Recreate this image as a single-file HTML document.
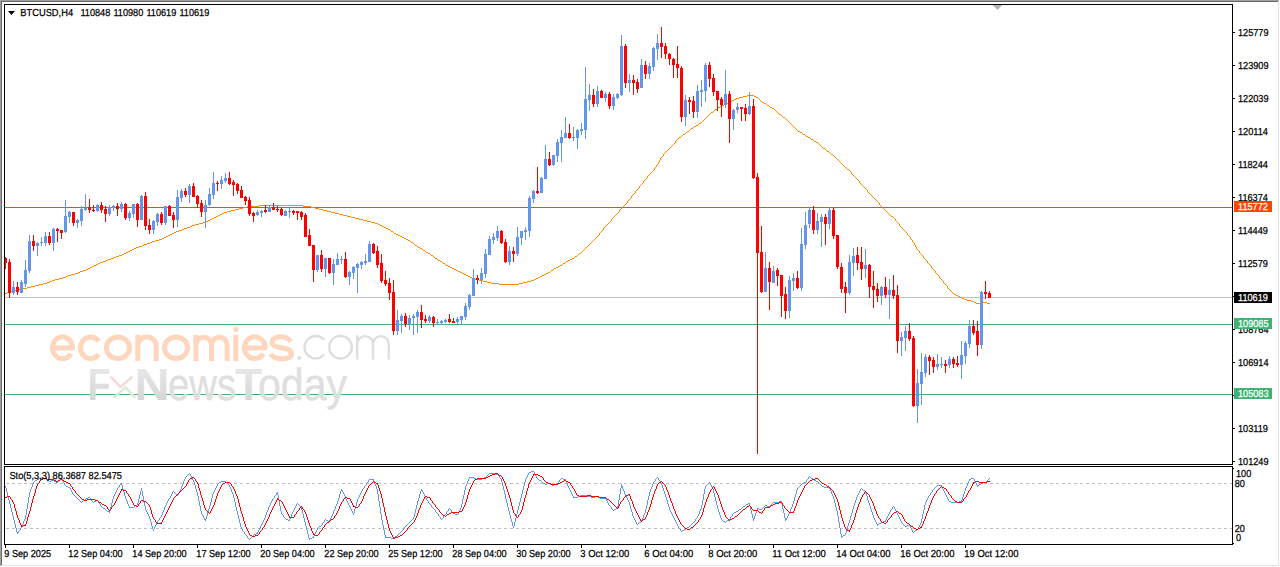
<!DOCTYPE html>
<html><head><meta charset="utf-8"><title>BTCUSD,H4</title>
<style>html,body{margin:0;padding:0;background:#fff;overflow:hidden}body{width:1280px;height:567px;font-family:"Liberation Sans",sans-serif}svg text{font-family:"Liberation Sans",sans-serif}</style></head>
<body>
<svg width="1280" height="567" viewBox="0 0 1280 567" font-family='"Liberation Sans", sans-serif' style="display:block">
<rect x="0" y="0" width="1280" height="567" fill="#fff"/>
<g shape-rendering="crispEdges">
<rect x="5" y="297" width="1227" height="1" fill="#c0c0c0"/>
<rect x="5" y="207" width="1227" height="1" fill="#ff4500"/>
<rect x="5" y="324" width="1227" height="1" fill="#3cb371"/>
<rect x="5" y="394" width="1227" height="1" fill="#3cb371"/>
</g>
<path d="M5.5,293V294M6.5,293V294M7.5,292V293M8.5,292V293M9.5,292V293M10.5,292V293M11.5,291V292M12.5,291V292M13.5,291V292M14.5,291V292M15.5,290V291M16.5,290V291M17.5,290V291M18.5,290V291M19.5,289V290M20.5,289V290M21.5,289V290M22.5,289V290M23.5,288V289M24.5,288V289M25.5,288V289M26.5,288V289M27.5,287V288M28.5,287V288M29.5,287V288M30.5,287V288M31.5,286V287M32.5,286V287M33.5,286V287M34.5,286V287M35.5,285V286M36.5,285V286M37.5,285V286M38.5,285V286M39.5,284V285M40.5,284V285M41.5,284V285M42.5,284V285M43.5,283V284M44.5,283V284M45.5,283V284M46.5,283V284M47.5,282V283M48.5,282V283M49.5,282V283M50.5,281V282M51.5,281V282M52.5,280V281M53.5,280V281M54.5,280V281M55.5,279V280M56.5,279V280M57.5,279V280M58.5,279V280M59.5,278V279M60.5,278V279M61.5,278V279M62.5,278V279M63.5,277V278M64.5,277V278M65.5,277V278M66.5,276V277M67.5,276V277M68.5,275V276M69.5,275V276M70.5,275V276M71.5,274V275M72.5,274V275M73.5,274V275M74.5,274V275M75.5,273V274M76.5,273V274M77.5,273V274M78.5,272V273M79.5,272V273M80.5,271V272M81.5,271V272M82.5,271V272M83.5,270V271M84.5,270V271M85.5,270V271M86.5,269V270M87.5,269V270M88.5,268V269M89.5,268V269M90.5,267V268M91.5,267V268M92.5,266V267M93.5,266V267M94.5,265V266M95.5,265V266M96.5,264V265M97.5,264V265M98.5,263V264M99.5,263V264M100.5,262V263M101.5,262V263M102.5,262V263M103.5,261V262M104.5,261V262M105.5,261V262M106.5,260V261M107.5,260V261M108.5,259V260M109.5,259V260M110.5,259V260M111.5,258V259M112.5,258V259M113.5,258V259M114.5,257V258M115.5,257V258M116.5,256V257M117.5,256V257M118.5,256V257M119.5,255V256M120.5,255V256M121.5,255V256M122.5,254V255M123.5,254V255M124.5,253V254M125.5,253V254M126.5,252V253M127.5,252V253M128.5,251V252M129.5,251V252M130.5,250V251M131.5,250V251M132.5,249V250M133.5,249V250M134.5,248V249M135.5,248V249M136.5,247V248M137.5,247V248M138.5,247V248M139.5,246V247M140.5,246V247M141.5,246V247M142.5,245V246M143.5,245V246M144.5,244V245M145.5,244V245M146.5,244V245M147.5,243V244M148.5,243V244M149.5,243V244M150.5,242V243M151.5,242V243M152.5,241V242M153.5,241V242M154.5,241V242M155.5,240V241M156.5,240V241M157.5,240V241M158.5,240V241M159.5,239V240M160.5,239V240M161.5,239V240M162.5,238V239M163.5,238V239M164.5,237V238M165.5,237V238M166.5,236V237M167.5,236V237M168.5,235V236M169.5,235V236M170.5,234V235M171.5,234V235M172.5,233V234M173.5,233V234M174.5,232V233M175.5,232V233M176.5,231V232M177.5,231V232M178.5,231V232M179.5,230V231M180.5,230V231M181.5,230V231M182.5,229V230M183.5,229V230M184.5,228V229M185.5,228V229M186.5,228V229M187.5,227V228M188.5,227V228M189.5,227V228M190.5,226V227M191.5,226V227M192.5,225V226M193.5,225V226M194.5,225V226M195.5,224V225M196.5,224V225M197.5,224V225M198.5,224V225M199.5,223V224M200.5,223V224M201.5,223V224M202.5,223V224M203.5,222V223M204.5,222V223M205.5,222V223M206.5,221V222M207.5,221V222M208.5,220V221M209.5,220V221M210.5,219V220M211.5,219V220M212.5,218V219M213.5,218V219M214.5,217V218M215.5,217V218M216.5,216V217M217.5,216V217M218.5,215V216M219.5,215V216M220.5,214V215M221.5,214V215M222.5,213V214M223.5,213V214M224.5,212V213M225.5,212V213M226.5,212V213M227.5,211V212M228.5,211V212M229.5,211V212M230.5,211V212M231.5,210V211M232.5,210V211M233.5,210V211M234.5,210V211M235.5,209V210M236.5,209V210M237.5,209V210M238.5,209V210M239.5,208V209M240.5,208V209M241.5,208V209M242.5,208V209M243.5,207V208M244.5,207V208M245.5,207V208M246.5,207V208M247.5,206V207M248.5,206V207M249.5,206V207M250.5,206V207M251.5,206V207M252.5,206V207M253.5,206V207M254.5,206V207M255.5,206V207M256.5,206V207M257.5,206V207M258.5,206V207M259.5,205V206M260.5,205V206M261.5,205V206M262.5,205V206M263.5,205V206M264.5,205V206M265.5,205V206M266.5,205V206M267.5,205V206M268.5,205V206M269.5,205V206M270.5,205V206M271.5,205V206M272.5,205V206M273.5,205V206M274.5,205V206M275.5,205V206M276.5,205V206M277.5,205V206M278.5,205V206M279.5,205V206M280.5,205V206M281.5,205V206M282.5,205V206M283.5,205V206M284.5,205V206M285.5,205V206M286.5,205V206M287.5,205V206M288.5,205V206M289.5,205V206M290.5,205V206M291.5,205V206M292.5,205V206M293.5,205V206M294.5,205V206M295.5,205V206M296.5,205V206M297.5,205V206M298.5,205V206M299.5,205V206M300.5,205V206M301.5,205V206M302.5,205V206M303.5,206V207M304.5,206V207M305.5,206V207M306.5,206V207M307.5,206V207M308.5,206V207M309.5,206V207M310.5,206V207M311.5,207V208M312.5,207V208M313.5,207V208M314.5,207V208M315.5,208V209M316.5,208V209M317.5,208V209M318.5,208V209M319.5,209V210M320.5,209V210M321.5,209V210M322.5,209V210M323.5,210V211M324.5,210V211M325.5,210V211M326.5,210V211M327.5,211V212M328.5,211V212M329.5,211V212M330.5,211V212M331.5,212V213M332.5,212V213M333.5,212V213M334.5,212V213M335.5,213V214M336.5,213V214M337.5,213V214M338.5,213V214M339.5,214V215M340.5,214V215M341.5,214V215M342.5,214V215M343.5,215V216M344.5,215V216M345.5,215V216M346.5,215V216M347.5,216V217M348.5,216V217M349.5,216V217M350.5,216V217M351.5,217V218M352.5,217V218M353.5,217V218M354.5,217V218M355.5,218V219M356.5,218V219M357.5,218V219M358.5,218V219M359.5,219V220M360.5,219V220M361.5,219V220M362.5,219V220M363.5,220V221M364.5,220V221M365.5,220V221M366.5,220V221M367.5,221V222M368.5,221V222M369.5,221V222M370.5,221V222M371.5,222V223M372.5,222V223M373.5,222V223M374.5,222V223M375.5,223V224M376.5,223V224M377.5,223V224M378.5,224V225M379.5,224V225M380.5,225V226M381.5,225V226M382.5,226V227M383.5,226V227M384.5,227V228M385.5,227V228M386.5,228V229M387.5,228V229M388.5,229V230M389.5,229V230M390.5,230V231M391.5,231V232M392.5,231V232M393.5,232V233M394.5,233V234M395.5,233V234M396.5,234V235M397.5,234V235M398.5,235V236M399.5,235V236M400.5,236V237M401.5,236V237M402.5,237V238M403.5,237V238M404.5,238V239M405.5,238V239M406.5,239V240M407.5,239V240M408.5,240V241M409.5,240V241M410.5,241V242M411.5,242V243M412.5,242V243M413.5,243V244M414.5,244V245M415.5,245V246M416.5,245V246M417.5,246V247M418.5,247V248M419.5,247V248M420.5,248V249M421.5,248V249M422.5,249V250M423.5,250V251M424.5,250V251M425.5,251V252M426.5,252V253M427.5,252V253M428.5,253V254M429.5,253V254M430.5,254V255M431.5,255V256M432.5,255V256M433.5,256V257M434.5,257V258M435.5,258V259M436.5,258V259M437.5,259V260M438.5,260V261M439.5,260V261M440.5,261V262M441.5,261V262M442.5,262V263M443.5,263V264M444.5,263V264M445.5,264V265M446.5,265V266M447.5,265V266M448.5,266V267M449.5,266V267M450.5,267V268M451.5,267V268M452.5,268V269M453.5,268V269M454.5,269V270M455.5,269V270M456.5,270V271M457.5,270V271M458.5,271V272M459.5,271V272M460.5,272V273M461.5,272V273M462.5,273V274M463.5,273V274M464.5,274V275M465.5,274V275M466.5,275V276M467.5,275V276M468.5,276V277M469.5,276V277M470.5,277V278M471.5,277V278M472.5,278V279M473.5,278V279M474.5,278V279M475.5,279V280M476.5,279V280M477.5,279V280M478.5,279V280M479.5,280V281M480.5,280V281M481.5,280V281M482.5,280V281M483.5,281V282M484.5,281V282M485.5,281V282M486.5,281V282M487.5,282V283M488.5,282V283M489.5,282V283M490.5,282V283M491.5,283V284M492.5,283V284M493.5,283V284M494.5,283V284M495.5,283V284M496.5,283V284M497.5,283V284M498.5,283V284M499.5,284V285M500.5,284V285M501.5,284V285M502.5,284V285M503.5,284V285M504.5,284V285M505.5,284V285M506.5,284V285M507.5,284V285M508.5,284V285M509.5,284V285M510.5,284V285M511.5,284V285M512.5,284V285M513.5,284V285M514.5,284V285M515.5,284V285M516.5,284V285M517.5,284V285M518.5,284V285M519.5,283V284M520.5,283V284M521.5,283V284M522.5,283V284M523.5,282V283M524.5,282V283M525.5,282V283M526.5,282V283M527.5,281V282M528.5,281V282M529.5,281V282M530.5,281V282M531.5,280V281M532.5,280V281M533.5,280V281M534.5,279V280M535.5,279V280M536.5,278V279M537.5,278V279M538.5,277V278M539.5,277V278M540.5,276V277M541.5,276V277M542.5,275V276M543.5,275V276M544.5,274V275M545.5,274V275M546.5,273V274M547.5,273V274M548.5,272V273M549.5,272V273M550.5,271V272M551.5,270V271M552.5,270V271M553.5,269V270M554.5,268V269M555.5,268V269M556.5,267V268M557.5,267V268M558.5,266V267M559.5,266V267M560.5,265V266M561.5,265V266M562.5,264V265M563.5,263V264M564.5,263V264M565.5,262V263M566.5,261V262M567.5,261V262M568.5,260V261M569.5,260V261M570.5,259V260M571.5,259V260M572.5,258V259M573.5,258V259M574.5,257V258M575.5,256V257M576.5,256V257M577.5,255V256M578.5,254V255M579.5,253V254M580.5,253V254M581.5,252V253M582.5,251V252M583.5,250V251M584.5,249V250M585.5,248V249M586.5,247V248M587.5,246V247M588.5,245V246M589.5,244V245M590.5,243V244M591.5,242V243M592.5,241V242M593.5,240V241M594.5,239V240M595.5,238V239M596.5,237V238M597.5,236V237M598.5,235V236M599.5,233V235M600.5,232V233M601.5,231V232M602.5,230V231M603.5,228V230M604.5,227V228M605.5,226V227M606.5,225V226M607.5,224V225M608.5,223V224M609.5,222V223M610.5,221V222M611.5,219V221M612.5,218V219M613.5,217V218M614.5,216V217M615.5,215V216M616.5,214V215M617.5,213V214M618.5,212V213M619.5,210V212M620.5,209V210M621.5,208V209M622.5,207V208M623.5,206V207M624.5,205V206M625.5,204V205M626.5,203V204M627.5,201V203M628.5,200V201M629.5,199V200M630.5,198V199M631.5,196V198M632.5,195V196M633.5,194V195M634.5,193V194M635.5,191V193M636.5,190V191M637.5,189V190M638.5,188V189M639.5,186V188M640.5,185V186M641.5,184V185M642.5,183V184M643.5,181V183M644.5,180V181M645.5,179V180M646.5,178V179M647.5,176V178M648.5,175V176M649.5,174V175M650.5,173V174M651.5,172V173M652.5,171V172M653.5,170V171M654.5,168V170M655.5,167V168M656.5,165V167M657.5,164V165M658.5,162V164M659.5,160V162M660.5,158V160M661.5,157V158M662.5,156V157M663.5,154V156M664.5,153V154M665.5,152V153M666.5,151V152M667.5,150V151M668.5,149V150M669.5,148V149M670.5,147V148M671.5,146V147M672.5,145V146M673.5,144V145M674.5,143V144M675.5,141V143M676.5,140V141M677.5,139V140M678.5,138V139M679.5,137V138M680.5,137V138M681.5,136V137M682.5,135V136M683.5,134V135M684.5,134V135M685.5,133V134M686.5,132V133M687.5,131V132M688.5,131V132M689.5,130V131M690.5,129V130M691.5,128V129M692.5,128V129M693.5,127V128M694.5,126V127M695.5,126V127M696.5,125V126M697.5,125V126M698.5,124V125M699.5,123V124M700.5,123V124M701.5,122V123M702.5,121V122M703.5,120V121M704.5,119V120M705.5,118V119M706.5,117V118M707.5,116V117M708.5,115V116M709.5,114V115M710.5,113V114M711.5,112V113M712.5,112V113M713.5,111V112M714.5,110V111M715.5,109V110M716.5,109V110M717.5,108V109M718.5,107V108M719.5,107V108M720.5,106V107M721.5,106V107M722.5,105V106M723.5,105V106M724.5,104V105M725.5,104V105M726.5,103V104M727.5,103V104M728.5,102V103M729.5,102V103M730.5,101V102M731.5,101V102M732.5,100V101M733.5,100V101M734.5,99V100M735.5,99V100M736.5,98V99M737.5,98V99M738.5,98V99M739.5,97V98M740.5,97V98M741.5,97V98M742.5,97V98M743.5,96V97M744.5,96V97M745.5,96V97M746.5,96V97M747.5,95V96M748.5,95V96M749.5,95V96M750.5,95V96M751.5,95V96M752.5,95V96M753.5,95V96M754.5,96V97M755.5,96V97M756.5,97V98M757.5,97V98M758.5,98V99M759.5,99V100M760.5,100V101M761.5,101V102M762.5,102V103M763.5,102V103M764.5,103V104M765.5,103V104M766.5,104V105M767.5,105V106M768.5,105V106M769.5,106V107M770.5,107V108M771.5,107V108M772.5,108V109M773.5,108V109M774.5,109V110M775.5,110V111M776.5,111V112M777.5,112V113M778.5,113V114M779.5,114V115M780.5,114V115M781.5,115V116M782.5,116V117M783.5,117V118M784.5,117V118M785.5,118V119M786.5,119V120M787.5,120V121M788.5,121V122M789.5,122V123M790.5,123V124M791.5,124V125M792.5,125V126M793.5,126V127M794.5,127V128M795.5,128V129M796.5,129V130M797.5,130V131M798.5,131V132M799.5,131V132M800.5,132V133M801.5,132V133M802.5,133V134M803.5,134V135M804.5,134V135M805.5,135V136M806.5,136V137M807.5,136V137M808.5,137V138M809.5,137V138M810.5,138V139M811.5,139V140M812.5,139V140M813.5,140V141M814.5,141V142M815.5,141V142M816.5,142V143M817.5,142V143M818.5,143V144M819.5,144V145M820.5,145V146M821.5,146V147M822.5,147V148M823.5,148V149M824.5,148V149M825.5,149V150M826.5,150V151M827.5,151V152M828.5,151V152M829.5,152V153M830.5,153V154M831.5,154V155M832.5,154V155M833.5,155V156M834.5,156V157M835.5,157V158M836.5,158V159M837.5,159V160M838.5,160V161M839.5,161V162M840.5,162V163M841.5,163V164M842.5,164V165M843.5,165V166M844.5,166V167M845.5,167V168M846.5,168V169M847.5,169V170M848.5,169V170M849.5,170V171M850.5,171V172M851.5,172V174M852.5,174V175M853.5,175V176M854.5,176V177M855.5,177V178M856.5,178V179M857.5,179V180M858.5,180V181M859.5,181V183M860.5,183V184M861.5,184V185M862.5,185V186M863.5,186V187M864.5,187V188M865.5,188V189M866.5,189V190M867.5,190V192M868.5,192V193M869.5,193V194M870.5,194V195M871.5,195V196M872.5,196V197M873.5,197V198M874.5,198V199M875.5,199V200M876.5,200V201M877.5,201V202M878.5,202V203M879.5,203V205M880.5,205V206M881.5,206V207M882.5,207V208M883.5,208V209M884.5,209V210M885.5,210V211M886.5,211V212M887.5,212V213M888.5,213V214M889.5,214V215M890.5,215V216M891.5,216V217M892.5,216V217M893.5,217V218M894.5,218V219M895.5,219V221M896.5,221V222M897.5,222V223M898.5,223V224M899.5,224V226M900.5,226V227M901.5,227V228M902.5,228V229M903.5,229V230M904.5,230V231M905.5,231V232M906.5,232V233M907.5,233V235M908.5,235V236M909.5,236V237M910.5,237V239M911.5,239V240M912.5,240V242M913.5,242V243M914.5,243V245M915.5,245V247M916.5,247V249M917.5,249V250M918.5,250V251M919.5,251V253M920.5,253V254M921.5,254V255M922.5,255V256M923.5,256V258M924.5,258V259M925.5,259V260M926.5,260V261M927.5,261V263M928.5,263V264M929.5,264V265M930.5,265V266M931.5,266V268M932.5,268V269M933.5,269V270M934.5,270V271M935.5,271V273M936.5,273V274M937.5,274V275M938.5,275V276M939.5,276V278M940.5,278V279M941.5,279V280M942.5,280V281M943.5,281V283M944.5,283V284M945.5,284V285M946.5,285V286M947.5,286V288M948.5,288V289M949.5,289V290M950.5,290V291M951.5,291V292M952.5,292V293M953.5,293V294M954.5,294V295M955.5,294V295M956.5,295V296M957.5,295V296M958.5,296V297M959.5,296V297M960.5,297V298M961.5,297V298M962.5,298V299M963.5,298V299M964.5,299V300M965.5,299V300M966.5,299V300M967.5,300V301M968.5,300V301M969.5,300V301M970.5,300V301M971.5,301V302M972.5,301V302M973.5,301V302M974.5,302V303M975.5,302V303M976.5,303V304M977.5,303V304M978.5,303V304M979.5,303V304M980.5,303V304M981.5,303V304M982.5,303V304M983.5,302V303M984.5,302V303M985.5,302V303M986.5,302V303M987.5,303V304M988.5,303V304M989.5,303V304" fill="none" stroke="#ff8c00" stroke-width="1" shape-rendering="crispEdges"/>
<g shape-rendering="crispEdges">
<rect x="5" y="257" width="1" height="12" fill="#ff0000"/>
<rect x="4" y="258" width="3" height="5" fill="#ff0000"/>
<rect x="9" y="259" width="1" height="39" fill="#ff0000"/>
<rect x="8" y="262" width="3" height="31" fill="#ff0000"/>
<rect x="13" y="281" width="1" height="14" fill="#6495ed"/>
<rect x="12" y="287" width="3" height="6" fill="#6495ed"/>
<rect x="17" y="282" width="1" height="13" fill="#ff0000"/>
<rect x="16" y="287" width="3" height="5" fill="#ff0000"/>
<rect x="21" y="280" width="1" height="13" fill="#6495ed"/>
<rect x="20" y="282" width="3" height="11" fill="#6495ed"/>
<rect x="25" y="260" width="1" height="27" fill="#6495ed"/>
<rect x="24" y="270" width="3" height="14" fill="#6495ed"/>
<rect x="29" y="235" width="1" height="38" fill="#6495ed"/>
<rect x="28" y="241" width="3" height="30" fill="#6495ed"/>
<rect x="33" y="235" width="1" height="16" fill="#ff0000"/>
<rect x="32" y="241" width="3" height="5" fill="#ff0000"/>
<rect x="37" y="242" width="1" height="14" fill="#6495ed"/>
<rect x="36" y="243" width="3" height="3" fill="#6495ed"/>
<rect x="41" y="237" width="1" height="9" fill="#6495ed"/>
<rect x="40" y="242" width="3" height="1" fill="#6495ed"/>
<rect x="45" y="232" width="1" height="14" fill="#6495ed"/>
<rect x="44" y="236" width="3" height="7" fill="#6495ed"/>
<rect x="49" y="232" width="1" height="13" fill="#ff0000"/>
<rect x="48" y="236" width="3" height="7" fill="#ff0000"/>
<rect x="53" y="228" width="1" height="23" fill="#6495ed"/>
<rect x="52" y="229" width="3" height="14" fill="#6495ed"/>
<rect x="57" y="228" width="1" height="14" fill="#ff0000"/>
<rect x="56" y="229" width="3" height="2" fill="#ff0000"/>
<rect x="61" y="230" width="1" height="9" fill="#ff0000"/>
<rect x="60" y="230" width="3" height="3" fill="#ff0000"/>
<rect x="65" y="200" width="1" height="33" fill="#6495ed"/>
<rect x="64" y="216" width="3" height="16" fill="#6495ed"/>
<rect x="69" y="211" width="1" height="12" fill="#6495ed"/>
<rect x="68" y="212" width="3" height="5" fill="#6495ed"/>
<rect x="73" y="212" width="1" height="14" fill="#ff0000"/>
<rect x="72" y="212" width="3" height="11" fill="#ff0000"/>
<rect x="77" y="219" width="1" height="9" fill="#6495ed"/>
<rect x="76" y="220" width="3" height="3" fill="#6495ed"/>
<rect x="81" y="206" width="1" height="20" fill="#6495ed"/>
<rect x="80" y="209" width="3" height="12" fill="#6495ed"/>
<rect x="85" y="194" width="1" height="17" fill="#6495ed"/>
<rect x="84" y="208" width="3" height="2" fill="#6495ed"/>
<rect x="89" y="199" width="1" height="14" fill="#ff0000"/>
<rect x="88" y="207" width="3" height="3" fill="#ff0000"/>
<rect x="93" y="205" width="1" height="7" fill="#ff0000"/>
<rect x="92" y="210" width="3" height="1" fill="#ff0000"/>
<rect x="97" y="204" width="1" height="8" fill="#6495ed"/>
<rect x="96" y="205" width="3" height="6" fill="#6495ed"/>
<rect x="101" y="202" width="1" height="11" fill="#ff0000"/>
<rect x="100" y="205" width="3" height="5" fill="#ff0000"/>
<rect x="105" y="206" width="1" height="16" fill="#ff0000"/>
<rect x="104" y="209" width="3" height="5" fill="#ff0000"/>
<rect x="109" y="205" width="1" height="11" fill="#6495ed"/>
<rect x="108" y="207" width="3" height="7" fill="#6495ed"/>
<rect x="113" y="205" width="1" height="6" fill="#6495ed"/>
<rect x="112" y="206" width="3" height="2" fill="#6495ed"/>
<rect x="117" y="203" width="1" height="13" fill="#ff0000"/>
<rect x="116" y="206" width="3" height="3" fill="#ff0000"/>
<rect x="121" y="202" width="1" height="10" fill="#6495ed"/>
<rect x="120" y="204" width="3" height="5" fill="#6495ed"/>
<rect x="125" y="203" width="1" height="17" fill="#ff0000"/>
<rect x="124" y="204" width="3" height="14" fill="#ff0000"/>
<rect x="129" y="211" width="1" height="10" fill="#6495ed"/>
<rect x="128" y="213" width="3" height="5" fill="#6495ed"/>
<rect x="133" y="204" width="1" height="14" fill="#6495ed"/>
<rect x="132" y="204" width="3" height="10" fill="#6495ed"/>
<rect x="137" y="203" width="1" height="24" fill="#ff0000"/>
<rect x="136" y="204" width="3" height="16" fill="#ff0000"/>
<rect x="141" y="195" width="1" height="25" fill="#6495ed"/>
<rect x="140" y="196" width="3" height="24" fill="#6495ed"/>
<rect x="145" y="192" width="1" height="38" fill="#ff0000"/>
<rect x="144" y="196" width="3" height="30" fill="#ff0000"/>
<rect x="149" y="219" width="1" height="15" fill="#ff0000"/>
<rect x="148" y="225" width="3" height="5" fill="#ff0000"/>
<rect x="153" y="220" width="1" height="14" fill="#6495ed"/>
<rect x="152" y="221" width="3" height="9" fill="#6495ed"/>
<rect x="157" y="213" width="1" height="13" fill="#6495ed"/>
<rect x="156" y="214" width="3" height="8" fill="#6495ed"/>
<rect x="161" y="212" width="1" height="13" fill="#ff0000"/>
<rect x="160" y="214" width="3" height="9" fill="#ff0000"/>
<rect x="165" y="206" width="1" height="19" fill="#6495ed"/>
<rect x="164" y="206" width="3" height="17" fill="#6495ed"/>
<rect x="169" y="205" width="1" height="11" fill="#ff0000"/>
<rect x="168" y="206" width="3" height="10" fill="#ff0000"/>
<rect x="173" y="212" width="1" height="16" fill="#ff0000"/>
<rect x="172" y="215" width="3" height="5" fill="#ff0000"/>
<rect x="177" y="190" width="1" height="37" fill="#6495ed"/>
<rect x="176" y="197" width="3" height="23" fill="#6495ed"/>
<rect x="181" y="189" width="1" height="13" fill="#6495ed"/>
<rect x="180" y="191" width="3" height="7" fill="#6495ed"/>
<rect x="185" y="188" width="1" height="9" fill="#ff0000"/>
<rect x="184" y="191" width="3" height="4" fill="#ff0000"/>
<rect x="189" y="184" width="1" height="19" fill="#6495ed"/>
<rect x="188" y="186" width="3" height="9" fill="#6495ed"/>
<rect x="193" y="183" width="1" height="14" fill="#ff0000"/>
<rect x="192" y="186" width="3" height="11" fill="#ff0000"/>
<rect x="197" y="195" width="1" height="13" fill="#ff0000"/>
<rect x="196" y="196" width="3" height="8" fill="#ff0000"/>
<rect x="201" y="200" width="1" height="17" fill="#ff0000"/>
<rect x="200" y="203" width="3" height="9" fill="#ff0000"/>
<rect x="205" y="200" width="1" height="28" fill="#6495ed"/>
<rect x="204" y="205" width="3" height="7" fill="#6495ed"/>
<rect x="209" y="188" width="1" height="18" fill="#6495ed"/>
<rect x="208" y="194" width="3" height="11" fill="#6495ed"/>
<rect x="213" y="172" width="1" height="27" fill="#6495ed"/>
<rect x="212" y="183" width="3" height="12" fill="#6495ed"/>
<rect x="217" y="181" width="1" height="10" fill="#ff0000"/>
<rect x="216" y="183" width="3" height="1" fill="#ff0000"/>
<rect x="221" y="176" width="1" height="13" fill="#6495ed"/>
<rect x="220" y="180" width="3" height="4" fill="#6495ed"/>
<rect x="225" y="173" width="1" height="10" fill="#6495ed"/>
<rect x="224" y="178" width="3" height="3" fill="#6495ed"/>
<rect x="229" y="172" width="1" height="13" fill="#ff0000"/>
<rect x="228" y="178" width="3" height="6" fill="#ff0000"/>
<rect x="233" y="180" width="1" height="16" fill="#ff0000"/>
<rect x="232" y="182" width="3" height="3" fill="#ff0000"/>
<rect x="237" y="183" width="1" height="11" fill="#ff0000"/>
<rect x="236" y="184" width="3" height="7" fill="#ff0000"/>
<rect x="241" y="186" width="1" height="12" fill="#ff0000"/>
<rect x="240" y="190" width="3" height="8" fill="#ff0000"/>
<rect x="245" y="196" width="1" height="9" fill="#ff0000"/>
<rect x="244" y="197" width="3" height="4" fill="#ff0000"/>
<rect x="249" y="197" width="1" height="19" fill="#ff0000"/>
<rect x="248" y="200" width="3" height="14" fill="#ff0000"/>
<rect x="253" y="212" width="1" height="10" fill="#ff0000"/>
<rect x="252" y="213" width="3" height="3" fill="#ff0000"/>
<rect x="257" y="210" width="1" height="6" fill="#6495ed"/>
<rect x="256" y="212" width="3" height="3" fill="#6495ed"/>
<rect x="261" y="210" width="1" height="7" fill="#6495ed"/>
<rect x="260" y="211" width="3" height="2" fill="#6495ed"/>
<rect x="265" y="205" width="1" height="8" fill="#ff0000"/>
<rect x="264" y="210" width="3" height="2" fill="#ff0000"/>
<rect x="269" y="206" width="1" height="6" fill="#6495ed"/>
<rect x="268" y="207" width="3" height="5" fill="#6495ed"/>
<rect x="273" y="203" width="1" height="7" fill="#ff0000"/>
<rect x="272" y="207" width="3" height="3" fill="#ff0000"/>
<rect x="277" y="206" width="1" height="6" fill="#ff0000"/>
<rect x="276" y="209" width="3" height="1" fill="#ff0000"/>
<rect x="281" y="208" width="1" height="8" fill="#ff0000"/>
<rect x="280" y="209" width="3" height="6" fill="#ff0000"/>
<rect x="285" y="210" width="1" height="6" fill="#6495ed"/>
<rect x="284" y="211" width="3" height="5" fill="#6495ed"/>
<rect x="289" y="208" width="1" height="10" fill="#6495ed"/>
<rect x="288" y="211" width="3" height="1" fill="#6495ed"/>
<rect x="293" y="210" width="1" height="5" fill="#ff0000"/>
<rect x="292" y="211" width="3" height="2" fill="#ff0000"/>
<rect x="297" y="211" width="1" height="9" fill="#ff0000"/>
<rect x="296" y="211" width="3" height="2" fill="#ff0000"/>
<rect x="301" y="211" width="1" height="9" fill="#ff0000"/>
<rect x="300" y="212" width="3" height="5" fill="#ff0000"/>
<rect x="305" y="213" width="1" height="24" fill="#ff0000"/>
<rect x="304" y="215" width="3" height="22" fill="#ff0000"/>
<rect x="309" y="229" width="1" height="17" fill="#ff0000"/>
<rect x="308" y="235" width="3" height="11" fill="#ff0000"/>
<rect x="313" y="245" width="1" height="37" fill="#ff0000"/>
<rect x="312" y="245" width="3" height="25" fill="#ff0000"/>
<rect x="317" y="255" width="1" height="17" fill="#6495ed"/>
<rect x="316" y="255" width="3" height="15" fill="#6495ed"/>
<rect x="321" y="250" width="1" height="22" fill="#ff0000"/>
<rect x="320" y="255" width="3" height="14" fill="#ff0000"/>
<rect x="325" y="258" width="1" height="19" fill="#6495ed"/>
<rect x="324" y="258" width="3" height="11" fill="#6495ed"/>
<rect x="329" y="258" width="1" height="16" fill="#ff0000"/>
<rect x="328" y="258" width="3" height="15" fill="#ff0000"/>
<rect x="333" y="259" width="1" height="26" fill="#6495ed"/>
<rect x="332" y="264" width="3" height="9" fill="#6495ed"/>
<rect x="337" y="253" width="1" height="12" fill="#6495ed"/>
<rect x="336" y="259" width="3" height="6" fill="#6495ed"/>
<rect x="341" y="256" width="1" height="8" fill="#6495ed"/>
<rect x="340" y="259" width="3" height="1" fill="#6495ed"/>
<rect x="345" y="252" width="1" height="26" fill="#ff0000"/>
<rect x="344" y="259" width="3" height="18" fill="#ff0000"/>
<rect x="349" y="271" width="1" height="14" fill="#6495ed"/>
<rect x="348" y="272" width="3" height="5" fill="#6495ed"/>
<rect x="353" y="266" width="1" height="13" fill="#6495ed"/>
<rect x="352" y="267" width="3" height="6" fill="#6495ed"/>
<rect x="357" y="263" width="1" height="30" fill="#6495ed"/>
<rect x="356" y="264" width="3" height="4" fill="#6495ed"/>
<rect x="361" y="261" width="1" height="8" fill="#6495ed"/>
<rect x="360" y="262" width="3" height="3" fill="#6495ed"/>
<rect x="365" y="254" width="1" height="11" fill="#6495ed"/>
<rect x="364" y="261" width="3" height="2" fill="#6495ed"/>
<rect x="369" y="241" width="1" height="21" fill="#6495ed"/>
<rect x="368" y="244" width="3" height="18" fill="#6495ed"/>
<rect x="373" y="243" width="1" height="11" fill="#ff0000"/>
<rect x="372" y="244" width="3" height="9" fill="#ff0000"/>
<rect x="377" y="246" width="1" height="22" fill="#ff0000"/>
<rect x="376" y="251" width="3" height="14" fill="#ff0000"/>
<rect x="381" y="254" width="1" height="29" fill="#ff0000"/>
<rect x="380" y="263" width="3" height="18" fill="#ff0000"/>
<rect x="385" y="271" width="1" height="15" fill="#ff0000"/>
<rect x="384" y="280" width="3" height="4" fill="#ff0000"/>
<rect x="389" y="278" width="1" height="22" fill="#ff0000"/>
<rect x="388" y="283" width="3" height="10" fill="#ff0000"/>
<rect x="393" y="280" width="1" height="55" fill="#ff0000"/>
<rect x="392" y="292" width="3" height="39" fill="#ff0000"/>
<rect x="397" y="310" width="1" height="25" fill="#6495ed"/>
<rect x="396" y="320" width="3" height="11" fill="#6495ed"/>
<rect x="401" y="314" width="1" height="19" fill="#6495ed"/>
<rect x="400" y="316" width="3" height="5" fill="#6495ed"/>
<rect x="405" y="313" width="1" height="14" fill="#ff0000"/>
<rect x="404" y="316" width="3" height="8" fill="#ff0000"/>
<rect x="409" y="315" width="1" height="15" fill="#6495ed"/>
<rect x="408" y="318" width="3" height="6" fill="#6495ed"/>
<rect x="413" y="314" width="1" height="21" fill="#6495ed"/>
<rect x="412" y="316" width="3" height="2" fill="#6495ed"/>
<rect x="417" y="310" width="1" height="23" fill="#6495ed"/>
<rect x="416" y="312" width="3" height="5" fill="#6495ed"/>
<rect x="421" y="305" width="1" height="23" fill="#ff0000"/>
<rect x="420" y="312" width="3" height="8" fill="#ff0000"/>
<rect x="425" y="315" width="1" height="8" fill="#ff0000"/>
<rect x="424" y="319" width="3" height="2" fill="#ff0000"/>
<rect x="429" y="315" width="1" height="8" fill="#6495ed"/>
<rect x="428" y="317" width="3" height="4" fill="#6495ed"/>
<rect x="433" y="316" width="1" height="11" fill="#ff0000"/>
<rect x="432" y="317" width="3" height="6" fill="#ff0000"/>
<rect x="437" y="319" width="1" height="6" fill="#6495ed"/>
<rect x="436" y="322" width="3" height="1" fill="#6495ed"/>
<rect x="441" y="320" width="1" height="5" fill="#6495ed"/>
<rect x="440" y="321" width="3" height="2" fill="#6495ed"/>
<rect x="445" y="319" width="1" height="4" fill="#6495ed"/>
<rect x="444" y="320" width="3" height="2" fill="#6495ed"/>
<rect x="449" y="314" width="1" height="9" fill="#ff0000"/>
<rect x="448" y="319" width="3" height="3" fill="#ff0000"/>
<rect x="453" y="318" width="1" height="5" fill="#ff0000"/>
<rect x="452" y="321" width="3" height="2" fill="#ff0000"/>
<rect x="457" y="317" width="1" height="7" fill="#6495ed"/>
<rect x="456" y="319" width="3" height="3" fill="#6495ed"/>
<rect x="461" y="316" width="1" height="9" fill="#6495ed"/>
<rect x="460" y="316" width="3" height="4" fill="#6495ed"/>
<rect x="465" y="303" width="1" height="17" fill="#6495ed"/>
<rect x="464" y="306" width="3" height="11" fill="#6495ed"/>
<rect x="469" y="294" width="1" height="16" fill="#6495ed"/>
<rect x="468" y="295" width="3" height="12" fill="#6495ed"/>
<rect x="473" y="269" width="1" height="27" fill="#6495ed"/>
<rect x="472" y="278" width="3" height="18" fill="#6495ed"/>
<rect x="477" y="275" width="1" height="9" fill="#ff0000"/>
<rect x="476" y="278" width="3" height="2" fill="#ff0000"/>
<rect x="481" y="268" width="1" height="16" fill="#6495ed"/>
<rect x="480" y="273" width="3" height="7" fill="#6495ed"/>
<rect x="485" y="249" width="1" height="29" fill="#6495ed"/>
<rect x="484" y="254" width="3" height="20" fill="#6495ed"/>
<rect x="489" y="236" width="1" height="19" fill="#6495ed"/>
<rect x="488" y="239" width="3" height="16" fill="#6495ed"/>
<rect x="493" y="233" width="1" height="11" fill="#6495ed"/>
<rect x="492" y="237" width="3" height="3" fill="#6495ed"/>
<rect x="497" y="226" width="1" height="15" fill="#6495ed"/>
<rect x="496" y="231" width="3" height="7" fill="#6495ed"/>
<rect x="501" y="230" width="1" height="14" fill="#ff0000"/>
<rect x="500" y="231" width="3" height="12" fill="#ff0000"/>
<rect x="505" y="239" width="1" height="24" fill="#ff0000"/>
<rect x="504" y="242" width="3" height="20" fill="#ff0000"/>
<rect x="509" y="246" width="1" height="19" fill="#6495ed"/>
<rect x="508" y="251" width="3" height="11" fill="#6495ed"/>
<rect x="513" y="247" width="1" height="15" fill="#ff0000"/>
<rect x="512" y="251" width="3" height="3" fill="#ff0000"/>
<rect x="517" y="227" width="1" height="29" fill="#6495ed"/>
<rect x="516" y="237" width="3" height="17" fill="#6495ed"/>
<rect x="521" y="231" width="1" height="14" fill="#6495ed"/>
<rect x="520" y="231" width="3" height="7" fill="#6495ed"/>
<rect x="525" y="227" width="1" height="13" fill="#6495ed"/>
<rect x="524" y="230" width="3" height="2" fill="#6495ed"/>
<rect x="529" y="196" width="1" height="41" fill="#6495ed"/>
<rect x="528" y="198" width="3" height="33" fill="#6495ed"/>
<rect x="533" y="190" width="1" height="13" fill="#6495ed"/>
<rect x="532" y="191" width="3" height="8" fill="#6495ed"/>
<rect x="537" y="167" width="1" height="27" fill="#ff0000"/>
<rect x="536" y="191" width="3" height="2" fill="#ff0000"/>
<rect x="541" y="177" width="1" height="16" fill="#6495ed"/>
<rect x="540" y="178" width="3" height="15" fill="#6495ed"/>
<rect x="545" y="145" width="1" height="34" fill="#6495ed"/>
<rect x="544" y="159" width="3" height="20" fill="#6495ed"/>
<rect x="549" y="152" width="1" height="14" fill="#ff0000"/>
<rect x="548" y="159" width="3" height="6" fill="#ff0000"/>
<rect x="553" y="155" width="1" height="11" fill="#6495ed"/>
<rect x="552" y="155" width="3" height="10" fill="#6495ed"/>
<rect x="557" y="139" width="1" height="23" fill="#6495ed"/>
<rect x="556" y="142" width="3" height="14" fill="#6495ed"/>
<rect x="561" y="130" width="1" height="32" fill="#6495ed"/>
<rect x="560" y="137" width="3" height="6" fill="#6495ed"/>
<rect x="565" y="117" width="1" height="21" fill="#6495ed"/>
<rect x="564" y="133" width="3" height="5" fill="#6495ed"/>
<rect x="569" y="124" width="1" height="15" fill="#ff0000"/>
<rect x="568" y="133" width="3" height="5" fill="#ff0000"/>
<rect x="573" y="127" width="1" height="14" fill="#6495ed"/>
<rect x="572" y="137" width="3" height="1" fill="#6495ed"/>
<rect x="577" y="129" width="1" height="20" fill="#6495ed"/>
<rect x="576" y="130" width="3" height="8" fill="#6495ed"/>
<rect x="581" y="123" width="1" height="12" fill="#6495ed"/>
<rect x="580" y="129" width="3" height="2" fill="#6495ed"/>
<rect x="585" y="67" width="1" height="72" fill="#6495ed"/>
<rect x="584" y="99" width="3" height="31" fill="#6495ed"/>
<rect x="589" y="84" width="1" height="27" fill="#6495ed"/>
<rect x="588" y="95" width="3" height="5" fill="#6495ed"/>
<rect x="593" y="89" width="1" height="18" fill="#ff0000"/>
<rect x="592" y="95" width="3" height="9" fill="#ff0000"/>
<rect x="597" y="86" width="1" height="21" fill="#6495ed"/>
<rect x="596" y="91" width="3" height="13" fill="#6495ed"/>
<rect x="601" y="90" width="1" height="8" fill="#ff0000"/>
<rect x="600" y="91" width="3" height="7" fill="#ff0000"/>
<rect x="605" y="92" width="1" height="10" fill="#6495ed"/>
<rect x="604" y="94" width="3" height="4" fill="#6495ed"/>
<rect x="609" y="92" width="1" height="17" fill="#ff0000"/>
<rect x="608" y="94" width="3" height="12" fill="#ff0000"/>
<rect x="613" y="94" width="1" height="16" fill="#6495ed"/>
<rect x="612" y="97" width="3" height="9" fill="#6495ed"/>
<rect x="617" y="93" width="1" height="6" fill="#6495ed"/>
<rect x="616" y="94" width="3" height="4" fill="#6495ed"/>
<rect x="621" y="35" width="1" height="61" fill="#6495ed"/>
<rect x="620" y="46" width="3" height="49" fill="#6495ed"/>
<rect x="625" y="44" width="1" height="44" fill="#ff0000"/>
<rect x="624" y="46" width="3" height="37" fill="#ff0000"/>
<rect x="629" y="74" width="1" height="18" fill="#6495ed"/>
<rect x="628" y="80" width="3" height="3" fill="#6495ed"/>
<rect x="633" y="75" width="1" height="20" fill="#ff0000"/>
<rect x="632" y="80" width="3" height="3" fill="#ff0000"/>
<rect x="637" y="79" width="1" height="14" fill="#ff0000"/>
<rect x="636" y="82" width="3" height="7" fill="#ff0000"/>
<rect x="641" y="59" width="1" height="29" fill="#6495ed"/>
<rect x="640" y="65" width="3" height="23" fill="#6495ed"/>
<rect x="645" y="61" width="1" height="18" fill="#ff0000"/>
<rect x="644" y="65" width="3" height="9" fill="#ff0000"/>
<rect x="649" y="63" width="1" height="16" fill="#6495ed"/>
<rect x="648" y="66" width="3" height="8" fill="#6495ed"/>
<rect x="653" y="47" width="1" height="24" fill="#6495ed"/>
<rect x="652" y="48" width="3" height="19" fill="#6495ed"/>
<rect x="657" y="34" width="1" height="26" fill="#6495ed"/>
<rect x="656" y="43" width="3" height="6" fill="#6495ed"/>
<rect x="661" y="27" width="1" height="31" fill="#ff0000"/>
<rect x="660" y="43" width="3" height="4" fill="#ff0000"/>
<rect x="665" y="43" width="1" height="16" fill="#ff0000"/>
<rect x="664" y="46" width="3" height="8" fill="#ff0000"/>
<rect x="669" y="53" width="1" height="12" fill="#ff0000"/>
<rect x="668" y="54" width="3" height="5" fill="#ff0000"/>
<rect x="673" y="58" width="1" height="20" fill="#ff0000"/>
<rect x="672" y="59" width="3" height="6" fill="#ff0000"/>
<rect x="677" y="46" width="1" height="32" fill="#ff0000"/>
<rect x="676" y="64" width="3" height="4" fill="#ff0000"/>
<rect x="681" y="66" width="1" height="56" fill="#ff0000"/>
<rect x="680" y="68" width="3" height="49" fill="#ff0000"/>
<rect x="685" y="95" width="1" height="31" fill="#6495ed"/>
<rect x="684" y="100" width="3" height="17" fill="#6495ed"/>
<rect x="689" y="97" width="1" height="17" fill="#ff0000"/>
<rect x="688" y="100" width="3" height="2" fill="#ff0000"/>
<rect x="693" y="96" width="1" height="22" fill="#ff0000"/>
<rect x="692" y="101" width="3" height="11" fill="#ff0000"/>
<rect x="697" y="85" width="1" height="33" fill="#6495ed"/>
<rect x="696" y="91" width="3" height="21" fill="#6495ed"/>
<rect x="701" y="80" width="1" height="27" fill="#6495ed"/>
<rect x="700" y="90" width="3" height="2" fill="#6495ed"/>
<rect x="705" y="63" width="1" height="39" fill="#6495ed"/>
<rect x="704" y="65" width="3" height="26" fill="#6495ed"/>
<rect x="709" y="62" width="1" height="25" fill="#ff0000"/>
<rect x="708" y="65" width="3" height="14" fill="#ff0000"/>
<rect x="713" y="74" width="1" height="22" fill="#ff0000"/>
<rect x="712" y="78" width="3" height="14" fill="#ff0000"/>
<rect x="717" y="91" width="1" height="20" fill="#ff0000"/>
<rect x="716" y="91" width="3" height="9" fill="#ff0000"/>
<rect x="721" y="97" width="1" height="20" fill="#ff0000"/>
<rect x="720" y="99" width="3" height="6" fill="#ff0000"/>
<rect x="725" y="70" width="1" height="38" fill="#6495ed"/>
<rect x="724" y="94" width="3" height="11" fill="#6495ed"/>
<rect x="729" y="91" width="1" height="52" fill="#ff0000"/>
<rect x="728" y="94" width="3" height="25" fill="#ff0000"/>
<rect x="733" y="109" width="1" height="21" fill="#6495ed"/>
<rect x="732" y="110" width="3" height="9" fill="#6495ed"/>
<rect x="737" y="103" width="1" height="10" fill="#6495ed"/>
<rect x="736" y="107" width="3" height="3" fill="#6495ed"/>
<rect x="741" y="107" width="1" height="14" fill="#ff0000"/>
<rect x="740" y="107" width="3" height="2" fill="#ff0000"/>
<rect x="745" y="104" width="1" height="17" fill="#ff0000"/>
<rect x="744" y="108" width="3" height="6" fill="#ff0000"/>
<rect x="749" y="92" width="1" height="23" fill="#6495ed"/>
<rect x="748" y="106" width="3" height="8" fill="#6495ed"/>
<rect x="753" y="99" width="1" height="80" fill="#ff0000"/>
<rect x="752" y="106" width="3" height="72" fill="#ff0000"/>
<rect x="757" y="173" width="1" height="281" fill="#ff0000"/>
<rect x="756" y="177" width="3" height="76" fill="#ff0000"/>
<rect x="761" y="226" width="1" height="67" fill="#ff0000"/>
<rect x="760" y="252" width="3" height="40" fill="#ff0000"/>
<rect x="765" y="252" width="1" height="40" fill="#6495ed"/>
<rect x="764" y="268" width="3" height="24" fill="#6495ed"/>
<rect x="769" y="262" width="1" height="48" fill="#ff0000"/>
<rect x="768" y="268" width="3" height="14" fill="#ff0000"/>
<rect x="773" y="266" width="1" height="17" fill="#6495ed"/>
<rect x="772" y="271" width="3" height="12" fill="#6495ed"/>
<rect x="777" y="268" width="1" height="18" fill="#ff0000"/>
<rect x="776" y="270" width="3" height="6" fill="#ff0000"/>
<rect x="781" y="275" width="1" height="42" fill="#ff0000"/>
<rect x="780" y="275" width="3" height="21" fill="#ff0000"/>
<rect x="785" y="287" width="1" height="32" fill="#ff0000"/>
<rect x="784" y="294" width="3" height="17" fill="#ff0000"/>
<rect x="789" y="276" width="1" height="42" fill="#6495ed"/>
<rect x="788" y="280" width="3" height="31" fill="#6495ed"/>
<rect x="793" y="273" width="1" height="18" fill="#6495ed"/>
<rect x="792" y="278" width="3" height="3" fill="#6495ed"/>
<rect x="797" y="271" width="1" height="18" fill="#ff0000"/>
<rect x="796" y="278" width="3" height="10" fill="#ff0000"/>
<rect x="801" y="228" width="1" height="63" fill="#6495ed"/>
<rect x="800" y="244" width="3" height="44" fill="#6495ed"/>
<rect x="805" y="212" width="1" height="37" fill="#6495ed"/>
<rect x="804" y="225" width="3" height="20" fill="#6495ed"/>
<rect x="809" y="207" width="1" height="21" fill="#6495ed"/>
<rect x="808" y="210" width="3" height="14" fill="#6495ed"/>
<rect x="813" y="206" width="1" height="28" fill="#ff0000"/>
<rect x="812" y="210" width="3" height="20" fill="#ff0000"/>
<rect x="817" y="213" width="1" height="21" fill="#6495ed"/>
<rect x="816" y="221" width="3" height="9" fill="#6495ed"/>
<rect x="821" y="214" width="1" height="33" fill="#6495ed"/>
<rect x="820" y="217" width="3" height="5" fill="#6495ed"/>
<rect x="825" y="214" width="1" height="31" fill="#ff0000"/>
<rect x="824" y="217" width="3" height="7" fill="#ff0000"/>
<rect x="829" y="207" width="1" height="22" fill="#6495ed"/>
<rect x="828" y="210" width="3" height="14" fill="#6495ed"/>
<rect x="833" y="208" width="1" height="31" fill="#ff0000"/>
<rect x="832" y="210" width="3" height="26" fill="#ff0000"/>
<rect x="837" y="235" width="1" height="34" fill="#ff0000"/>
<rect x="836" y="235" width="3" height="32" fill="#ff0000"/>
<rect x="841" y="263" width="1" height="30" fill="#ff0000"/>
<rect x="840" y="267" width="3" height="22" fill="#ff0000"/>
<rect x="845" y="282" width="1" height="31" fill="#ff0000"/>
<rect x="844" y="287" width="3" height="6" fill="#ff0000"/>
<rect x="849" y="255" width="1" height="40" fill="#6495ed"/>
<rect x="848" y="262" width="3" height="31" fill="#6495ed"/>
<rect x="853" y="248" width="1" height="28" fill="#6495ed"/>
<rect x="852" y="256" width="3" height="7" fill="#6495ed"/>
<rect x="857" y="247" width="1" height="23" fill="#ff0000"/>
<rect x="856" y="255" width="3" height="8" fill="#ff0000"/>
<rect x="861" y="247" width="1" height="33" fill="#ff0000"/>
<rect x="860" y="262" width="3" height="7" fill="#ff0000"/>
<rect x="865" y="249" width="1" height="29" fill="#6495ed"/>
<rect x="864" y="265" width="3" height="4" fill="#6495ed"/>
<rect x="869" y="264" width="1" height="34" fill="#ff0000"/>
<rect x="868" y="265" width="3" height="22" fill="#ff0000"/>
<rect x="873" y="271" width="1" height="37" fill="#ff0000"/>
<rect x="872" y="286" width="3" height="4" fill="#ff0000"/>
<rect x="877" y="283" width="1" height="19" fill="#ff0000"/>
<rect x="876" y="289" width="3" height="7" fill="#ff0000"/>
<rect x="881" y="286" width="1" height="19" fill="#6495ed"/>
<rect x="880" y="287" width="3" height="9" fill="#6495ed"/>
<rect x="885" y="277" width="1" height="21" fill="#ff0000"/>
<rect x="884" y="287" width="3" height="8" fill="#ff0000"/>
<rect x="889" y="279" width="1" height="40" fill="#6495ed"/>
<rect x="888" y="290" width="3" height="5" fill="#6495ed"/>
<rect x="893" y="275" width="1" height="24" fill="#ff0000"/>
<rect x="892" y="290" width="3" height="6" fill="#ff0000"/>
<rect x="897" y="285" width="1" height="68" fill="#ff0000"/>
<rect x="896" y="295" width="3" height="46" fill="#ff0000"/>
<rect x="901" y="332" width="1" height="24" fill="#6495ed"/>
<rect x="900" y="337" width="3" height="4" fill="#6495ed"/>
<rect x="905" y="326" width="1" height="25" fill="#6495ed"/>
<rect x="904" y="331" width="3" height="7" fill="#6495ed"/>
<rect x="909" y="323" width="1" height="18" fill="#ff0000"/>
<rect x="908" y="331" width="3" height="8" fill="#ff0000"/>
<rect x="913" y="336" width="1" height="71" fill="#ff0000"/>
<rect x="912" y="338" width="3" height="68" fill="#ff0000"/>
<rect x="917" y="369" width="1" height="54" fill="#6495ed"/>
<rect x="916" y="383" width="3" height="23" fill="#6495ed"/>
<rect x="921" y="353" width="1" height="52" fill="#6495ed"/>
<rect x="920" y="372" width="3" height="12" fill="#6495ed"/>
<rect x="925" y="354" width="1" height="23" fill="#6495ed"/>
<rect x="924" y="357" width="3" height="16" fill="#6495ed"/>
<rect x="929" y="355" width="1" height="20" fill="#ff0000"/>
<rect x="928" y="357" width="3" height="4" fill="#ff0000"/>
<rect x="933" y="357" width="1" height="16" fill="#ff0000"/>
<rect x="932" y="360" width="3" height="7" fill="#ff0000"/>
<rect x="937" y="354" width="1" height="16" fill="#6495ed"/>
<rect x="936" y="364" width="3" height="3" fill="#6495ed"/>
<rect x="941" y="357" width="1" height="11" fill="#6495ed"/>
<rect x="940" y="364" width="3" height="1" fill="#6495ed"/>
<rect x="945" y="360" width="1" height="13" fill="#ff0000"/>
<rect x="944" y="364" width="3" height="2" fill="#ff0000"/>
<rect x="949" y="356" width="1" height="12" fill="#6495ed"/>
<rect x="948" y="359" width="3" height="6" fill="#6495ed"/>
<rect x="953" y="357" width="1" height="11" fill="#ff0000"/>
<rect x="952" y="359" width="3" height="5" fill="#ff0000"/>
<rect x="957" y="356" width="1" height="11" fill="#ff0000"/>
<rect x="956" y="363" width="3" height="2" fill="#ff0000"/>
<rect x="961" y="341" width="1" height="38" fill="#6495ed"/>
<rect x="960" y="355" width="3" height="10" fill="#6495ed"/>
<rect x="965" y="341" width="1" height="23" fill="#6495ed"/>
<rect x="964" y="343" width="3" height="13" fill="#6495ed"/>
<rect x="969" y="320" width="1" height="28" fill="#6495ed"/>
<rect x="968" y="326" width="3" height="18" fill="#6495ed"/>
<rect x="973" y="320" width="1" height="15" fill="#ff0000"/>
<rect x="972" y="326" width="3" height="7" fill="#ff0000"/>
<rect x="977" y="321" width="1" height="35" fill="#ff0000"/>
<rect x="976" y="331" width="3" height="14" fill="#ff0000"/>
<rect x="981" y="291" width="1" height="58" fill="#6495ed"/>
<rect x="980" y="292" width="3" height="53" fill="#6495ed"/>
<rect x="985" y="281" width="1" height="18" fill="#ff0000"/>
<rect x="984" y="292" width="3" height="2" fill="#ff0000"/>
<rect x="989" y="291" width="1" height="7" fill="#ff0000"/>
<rect x="988" y="293" width="3" height="5" fill="#ff0000"/>
</g>
<g shape-rendering="crispEdges">
<line x1="6" y1="483.5" x2="1232" y2="483.5" stroke="#c0c0c0" stroke-width="1" stroke-dasharray="3 3"/>
<line x1="6" y1="528.5" x2="1232" y2="528.5" stroke="#c0c0c0" stroke-width="1" stroke-dasharray="3 3"/>
</g>
<path d="M5.5,486V488M6.5,488V492M7.5,492V496M8.5,496V500M9.5,500V504M10.5,504V508M11.5,508V512M12.5,512V516M13.5,516V520M14.5,520V524M15.5,524V528M16.5,528V532M17.5,532V534M18.5,531V533M19.5,530V531M20.5,528V530M21.5,526V528M22.5,524V526M23.5,521V524M24.5,519V521M25.5,515V519M26.5,509V515M27.5,503V509M28.5,497V503M29.5,492V497M30.5,489V492M31.5,487V489M32.5,484V487M33.5,482V484M34.5,481V482M35.5,480V481M36.5,480V481M37.5,479V480M38.5,479V480M39.5,478V479M40.5,478V479M41.5,478V479M42.5,478V479M43.5,478V479M44.5,478V479M45.5,478V479M46.5,479V480M47.5,480V481M48.5,480V481M49.5,481V482M50.5,481V482M51.5,480V481M52.5,480V481M53.5,480V481M54.5,481V482M55.5,481V482M56.5,482V483M57.5,482V483M58.5,481V482M59.5,480V481M60.5,479V480M61.5,478V479M62.5,479V481M63.5,481V483M64.5,483V485M65.5,485V486M66.5,486V487M67.5,486V487M68.5,487V488M69.5,487V488M70.5,488V490M71.5,490V492M72.5,492V494M73.5,494V495M74.5,495V496M75.5,496V497M76.5,497V498M77.5,498V499M78.5,499V500M79.5,500V501M80.5,501V502M81.5,502V503M82.5,501V502M83.5,500V501M84.5,500V501M85.5,499V500M86.5,498V499M87.5,498V499M88.5,497V498M89.5,497V498M90.5,498V499M91.5,499V501M92.5,501V502M93.5,502V503M94.5,501V502M95.5,501V502M96.5,500V501M97.5,500V501M98.5,501V503M99.5,503V504M100.5,504V506M101.5,506V507M102.5,507V508M103.5,508V509M104.5,508V509M105.5,509V510M106.5,510V511M107.5,511V512M108.5,511V512M109.5,511V513M110.5,507V511M111.5,503V507M112.5,499V503M113.5,496V499M114.5,494V496M115.5,492V494M116.5,490V492M117.5,488V490M118.5,487V488M119.5,485V487M120.5,484V485M121.5,483V485M122.5,485V489M123.5,489V492M124.5,492V496M125.5,496V499M126.5,499V501M127.5,501V504M128.5,504V506M129.5,506V508M130.5,507V508M131.5,507V508M132.5,507V508M133.5,507V508M134.5,506V507M135.5,505V506M136.5,505V506M137.5,503V505M138.5,499V503M139.5,495V499M140.5,491V495M141.5,488V491M142.5,491V496M143.5,496V501M144.5,501V506M145.5,506V510M146.5,510V512M147.5,512V514M148.5,514V516M149.5,516V519M150.5,519V522M151.5,522V526M152.5,526V529M153.5,529V531M154.5,527V529M155.5,525V527M156.5,523V525M157.5,521V523M158.5,520V521M159.5,518V520M160.5,517V518M161.5,515V517M162.5,512V515M163.5,510V512M164.5,507V510M165.5,505V507M166.5,503V505M167.5,501V503M168.5,499V501M169.5,498V499M170.5,496V498M171.5,494V496M172.5,492V494M173.5,491V492M174.5,492V493M175.5,493V494M176.5,494V495M177.5,495V496M178.5,493V495M179.5,491V493M180.5,489V491M181.5,486V489M182.5,484V486M183.5,481V484M184.5,479V481M185.5,477V479M186.5,476V477M187.5,475V476M188.5,474V475M189.5,473V474M190.5,474V476M191.5,476V478M192.5,478V480M193.5,480V482M194.5,482V485M195.5,485V489M196.5,489V492M197.5,492V496M198.5,496V501M199.5,501V506M200.5,506V511M201.5,511V514M202.5,514V516M203.5,516V518M204.5,518V520M205.5,519V521M206.5,516V519M207.5,512V516M208.5,509V512M209.5,506V509M210.5,502V506M211.5,498V502M212.5,494V498M213.5,492V494M214.5,490V492M215.5,488V490M216.5,486V488M217.5,484V486M218.5,483V484M219.5,482V483M220.5,482V483M221.5,481V482M222.5,481V482M223.5,481V482M224.5,481V482M225.5,481V482M226.5,482V483M227.5,483V484M228.5,484V485M229.5,485V487M230.5,487V489M231.5,489V492M232.5,492V494M233.5,494V498M234.5,498V502M235.5,502V507M236.5,507V511M237.5,511V515M238.5,515V519M239.5,519V523M240.5,523V527M241.5,527V529M242.5,529V531M243.5,531V532M244.5,532V534M245.5,534V535M246.5,535V536M247.5,536V538M248.5,538V539M249.5,539V540M250.5,538V539M251.5,537V538M252.5,536V537M253.5,535V536M254.5,534V535M255.5,534V535M256.5,533V534M257.5,532V534M258.5,530V532M259.5,528V530M260.5,526V528M261.5,524V526M262.5,522V524M263.5,520V522M264.5,518V520M265.5,515V518M266.5,512V515M267.5,510V512M268.5,507V510M269.5,505V507M270.5,503V505M271.5,501V503M272.5,499V501M273.5,498V499M274.5,496V498M275.5,495V496M276.5,493V495M277.5,492V495M278.5,495V500M279.5,500V506M280.5,506V511M281.5,511V514M282.5,514V515M283.5,515V517M284.5,517V518M285.5,518V519M286.5,519V520M287.5,519V520M288.5,520V521M289.5,519V521M290.5,517V519M291.5,514V517M292.5,512V514M293.5,510V512M294.5,508V510M295.5,506V508M296.5,504V506M297.5,503V504M298.5,504V505M299.5,505V506M300.5,506V507M301.5,507V510M302.5,510V514M303.5,514V518M304.5,518V522M305.5,522V526M306.5,526V530M307.5,530V534M308.5,534V538M309.5,538V540M310.5,538V539M311.5,538V539M312.5,537V538M313.5,536V538M314.5,534V536M315.5,532V534M316.5,530V532M317.5,528V530M318.5,527V528M319.5,526V527M320.5,526V527M321.5,525V526M322.5,523V525M323.5,522V523M324.5,520V522M325.5,519V520M326.5,520V521M327.5,520V521M328.5,521V522M329.5,520V522M330.5,518V520M331.5,516V518M332.5,514V516M333.5,511V514M334.5,509V511M335.5,506V509M336.5,504V506M337.5,501V504M338.5,498V501M339.5,494V498M340.5,491V494M341.5,489V491M342.5,490V492M343.5,492V494M344.5,494V496M345.5,496V499M346.5,499V501M347.5,501V503M348.5,503V505M349.5,505V507M350.5,507V509M351.5,509V511M352.5,511V513M353.5,513V515M354.5,509V513M355.5,506V509M356.5,502V506M357.5,499V502M358.5,497V499M359.5,495V497M360.5,493V495M361.5,491V493M362.5,489V491M363.5,488V489M364.5,486V488M365.5,485V486M366.5,483V485M367.5,482V483M368.5,480V482M369.5,479V480M370.5,479V480M371.5,479V480M372.5,479V480M373.5,479V481M374.5,481V484M375.5,484V486M376.5,486V489M377.5,489V494M378.5,494V501M379.5,501V507M380.5,507V514M381.5,514V520M382.5,520V525M383.5,525V530M384.5,530V535M385.5,535V538M386.5,537V538M387.5,537V538M388.5,537V538M389.5,537V538M390.5,537V538M391.5,538V539M392.5,538V539M393.5,538V539M394.5,537V538M395.5,536V537M396.5,536V537M397.5,535V536M398.5,534V535M399.5,533V534M400.5,532V533M401.5,531V532M402.5,530V531M403.5,528V530M404.5,527V528M405.5,526V527M406.5,525V526M407.5,524V525M408.5,523V524M409.5,522V523M410.5,521V522M411.5,520V521M412.5,519V520M413.5,517V519M414.5,513V517M415.5,509V513M416.5,505V509M417.5,501V505M418.5,498V501M419.5,494V498M420.5,491V494M421.5,489V491M422.5,490V492M423.5,492V494M424.5,494V496M425.5,496V498M426.5,498V500M427.5,500V501M428.5,501V503M429.5,503V504M430.5,504V505M431.5,505V507M432.5,507V508M433.5,508V509M434.5,509V510M435.5,510V512M436.5,512V513M437.5,513V514M438.5,514V516M439.5,516V517M440.5,517V519M441.5,519V520M442.5,518V519M443.5,516V518M444.5,515V516M445.5,514V515M446.5,512V514M447.5,511V512M448.5,509V511M449.5,508V509M450.5,509V510M451.5,510V512M452.5,512V513M453.5,513V514M454.5,513V514M455.5,514V515M456.5,514V515M457.5,514V515M458.5,512V514M459.5,510V512M460.5,508V510M461.5,504V508M462.5,499V504M463.5,495V499M464.5,490V495M465.5,486V490M466.5,484V486M467.5,481V484M468.5,479V481M469.5,477V479M470.5,477V478M471.5,477V478M472.5,477V478M473.5,477V478M474.5,478V479M475.5,478V479M476.5,479V480M477.5,479V480M478.5,479V480M479.5,479V480M480.5,479V480M481.5,479V480M482.5,478V479M483.5,478V479M484.5,477V478M485.5,477V478M486.5,476V477M487.5,475V476M488.5,474V475M489.5,473V474M490.5,473V474M491.5,473V474M492.5,473V474M493.5,473V474M494.5,473V474M495.5,474V475M496.5,474V475M497.5,474V475M498.5,475V476M499.5,476V478M500.5,478V479M501.5,479V482M502.5,482V486M503.5,486V490M504.5,490V494M505.5,494V499M506.5,499V503M507.5,503V507M508.5,507V511M509.5,511V515M510.5,515V519M511.5,519V522M512.5,522V526M513.5,526V528M514.5,522V526M515.5,518V522M516.5,514V518M517.5,510V514M518.5,506V510M519.5,502V506M520.5,498V502M521.5,494V498M522.5,490V494M523.5,486V490M524.5,482V486M525.5,479V482M526.5,477V479M527.5,475V477M528.5,473V475M529.5,472V473M530.5,472V473M531.5,471V472M532.5,471V472M533.5,471V472M534.5,472V474M535.5,474V476M536.5,476V478M537.5,478V479M538.5,479V480M539.5,480V481M540.5,480V481M541.5,481V482M542.5,482V483M543.5,483V484M544.5,483V484M545.5,484V485M546.5,484V485M547.5,483V484M548.5,483V484M549.5,483V484M550.5,484V485M551.5,484V485M552.5,485V486M553.5,485V486M554.5,484V485M555.5,484V485M556.5,483V484M557.5,483V484M558.5,482V483M559.5,480V482M560.5,479V480M561.5,478V479M562.5,478V479M563.5,479V480M564.5,479V480M565.5,479V481M566.5,481V483M567.5,483V486M568.5,486V488M569.5,488V490M570.5,490V492M571.5,492V494M572.5,494V496M573.5,496V498M574.5,497V498M575.5,497V498M576.5,497V498M577.5,497V498M578.5,496V497M579.5,496V497M580.5,495V496M581.5,495V496M582.5,495V496M583.5,495V496M584.5,495V496M585.5,495V496M586.5,495V496M587.5,496V497M588.5,496V497M589.5,496V497M590.5,496V497M591.5,497V498M592.5,497V498M593.5,497V498M594.5,497V498M595.5,496V497M596.5,496V497M597.5,496V497M598.5,497V498M599.5,497V498M600.5,498V499M601.5,498V499M602.5,498V499M603.5,498V499M604.5,498V499M605.5,498V499M606.5,499V501M607.5,501V503M608.5,503V505M609.5,505V506M610.5,506V507M611.5,507V509M612.5,509V510M613.5,510V511M614.5,509V510M615.5,509V510M616.5,508V509M617.5,506V509M618.5,500V506M619.5,494V500M620.5,488V494M621.5,484V488M622.5,486V489M623.5,489V491M624.5,491V494M625.5,494V496M626.5,496V498M627.5,498V500M628.5,500V502M629.5,502V505M630.5,505V509M631.5,509V512M632.5,512V516M633.5,516V518M634.5,518V520M635.5,520V522M636.5,522V524M637.5,524V525M638.5,523V524M639.5,522V523M640.5,522V523M641.5,520V522M642.5,518V520M643.5,515V518M644.5,513V515M645.5,509V513M646.5,505V509M647.5,500V505M648.5,496V500M649.5,492V496M650.5,489V492M651.5,487V489M652.5,484V487M653.5,482V484M654.5,481V482M655.5,479V481M656.5,478V479M657.5,477V478M658.5,478V480M659.5,480V481M660.5,481V483M661.5,483V485M662.5,485V488M663.5,488V491M664.5,491V494M665.5,494V497M666.5,497V500M667.5,500V504M668.5,504V507M669.5,507V510M670.5,510V512M671.5,512V514M672.5,514V516M673.5,516V518M674.5,518V520M675.5,520V522M676.5,522V524M677.5,524V526M678.5,526V528M679.5,528V529M680.5,529V531M681.5,531V532M682.5,530V531M683.5,530V531M684.5,529V530M685.5,529V530M686.5,528V529M687.5,527V528M688.5,527V528M689.5,526V527M690.5,525V526M691.5,524V525M692.5,523V524M693.5,522V523M694.5,521V522M695.5,519V521M696.5,518V519M697.5,516V518M698.5,514V516M699.5,511V514M700.5,509V511M701.5,505V509M702.5,500V505M703.5,494V500M704.5,489V494M705.5,486V489M706.5,485V486M707.5,484V485M708.5,483V484M709.5,482V483M710.5,483V485M711.5,485V487M712.5,487V489M713.5,489V493M714.5,493V497M715.5,497V501M716.5,501V505M717.5,505V509M718.5,509V512M719.5,512V515M720.5,515V518M721.5,518V520M722.5,520V521M723.5,521V522M724.5,521V522M725.5,522V523M726.5,521V522M727.5,520V521M728.5,520V521M729.5,519V520M730.5,517V519M731.5,516V517M732.5,514V516M733.5,513V514M734.5,512V513M735.5,512V513M736.5,511V512M737.5,511V512M738.5,510V511M739.5,509V510M740.5,509V510M741.5,508V509M742.5,507V508M743.5,506V507M744.5,506V507M745.5,505V506M746.5,504V505M747.5,504V505M748.5,503V504M749.5,503V506M750.5,506V510M751.5,510V514M752.5,514V518M753.5,518V521M754.5,516V519M755.5,513V516M756.5,510V513M757.5,508V510M758.5,508V509M759.5,509V510M760.5,509V510M761.5,509V510M762.5,508V509M763.5,507V508M764.5,506V507M765.5,505V506M766.5,505V506M767.5,506V507M768.5,506V507M769.5,506V507M770.5,505V506M771.5,504V505M772.5,503V504M773.5,502V503M774.5,502V503M775.5,502V503M776.5,502V503M777.5,502V503M778.5,502V503M779.5,501V502M780.5,501V502M781.5,501V504M782.5,504V509M783.5,509V513M784.5,513V518M785.5,518V521M786.5,518V520M787.5,516V518M788.5,514V516M789.5,512V514M790.5,509V512M791.5,507V509M792.5,504V507M793.5,501V504M794.5,497V501M795.5,494V497M796.5,490V494M797.5,488V490M798.5,487V488M799.5,486V487M800.5,485V486M801.5,484V485M802.5,483V484M803.5,483V484M804.5,482V483M805.5,482V483M806.5,480V482M807.5,479V480M808.5,477V479M809.5,476V477M810.5,477V478M811.5,478V479M812.5,478V479M813.5,479V480M814.5,480V481M815.5,480V481M816.5,481V482M817.5,481V482M818.5,482V483M819.5,483V484M820.5,484V485M821.5,485V486M822.5,486V487M823.5,486V487M824.5,487V488M825.5,487V488M826.5,487V488M827.5,487V488M828.5,487V488M829.5,487V489M830.5,489V491M831.5,491V494M832.5,494V496M833.5,496V499M834.5,499V503M835.5,503V507M836.5,507V511M837.5,511V516M838.5,516V522M839.5,522V528M840.5,528V534M841.5,534V538M842.5,536V537M843.5,535V536M844.5,535V536M845.5,533V535M846.5,530V533M847.5,526V530M848.5,523V526M849.5,520V523M850.5,516V520M851.5,513V516M852.5,509V513M853.5,506V509M854.5,503V506M855.5,500V503M856.5,497V500M857.5,495V497M858.5,493V495M859.5,491V493M860.5,489V491M861.5,488V489M862.5,489V490M863.5,490V491M864.5,490V491M865.5,491V493M866.5,493V496M867.5,496V500M868.5,500V503M869.5,503V506M870.5,506V509M871.5,509V512M872.5,512V515M873.5,515V518M874.5,518V520M875.5,520V522M876.5,522V524M877.5,524V526M878.5,524V525M879.5,523V524M880.5,523V524M881.5,522V523M882.5,522V523M883.5,521V522M884.5,521V522M885.5,520V522M886.5,518V520M887.5,516V518M888.5,514V516M889.5,512V514M890.5,510V512M891.5,509V510M892.5,507V509M893.5,506V507M894.5,507V509M895.5,509V511M896.5,511V513M897.5,513V515M898.5,515V517M899.5,517V519M900.5,519V521M901.5,521V523M902.5,523V524M903.5,524V525M904.5,525V526M905.5,526V527M906.5,526V527M907.5,525V526M908.5,525V526M909.5,525V526M910.5,526V528M911.5,528V530M912.5,530V532M913.5,532V533M914.5,531V532M915.5,530V531M916.5,530V531M917.5,529V530M918.5,527V529M919.5,525V527M920.5,523V525M921.5,519V523M922.5,514V519M923.5,510V514M924.5,505V510M925.5,502V505M926.5,500V502M927.5,498V500M928.5,496V498M929.5,495V496M930.5,493V495M931.5,492V493M932.5,490V492M933.5,489V490M934.5,488V489M935.5,487V488M936.5,486V487M937.5,485V486M938.5,485V486M939.5,485V486M940.5,485V486M941.5,485V487M942.5,487V489M943.5,489V491M944.5,491V493M945.5,493V495M946.5,495V497M947.5,497V499M948.5,499V501M949.5,501V502M950.5,501V502M951.5,502V503M952.5,502V503M953.5,502V503M954.5,502V503M955.5,502V503M956.5,502V503M957.5,502V503M958.5,502V503M959.5,501V502M960.5,501V502M961.5,500V502M962.5,497V500M963.5,494V497M964.5,491V494M965.5,488V491M966.5,486V488M967.5,483V486M968.5,481V483M969.5,479V481M970.5,479V480M971.5,478V479M972.5,478V479M973.5,478V479M974.5,479V481M975.5,481V483M976.5,483V485M977.5,485V487M978.5,485V486M979.5,484V485M980.5,484V485M981.5,483V484M982.5,483V484M983.5,482V483M984.5,482V483M985.5,482V483M986.5,481V482M987.5,480V481M988.5,479V480M989.5,478V479" fill="none" stroke="#6495ed" stroke-width="1" shape-rendering="crispEdges"/>
<path d="M5.5,497V498M6.5,497V498M7.5,496V497M8.5,496V497M9.5,496V497M10.5,497V499M11.5,499V500M12.5,500V502M13.5,502V504M14.5,504V508M15.5,508V511M16.5,511V515M17.5,515V518M18.5,518V520M19.5,520V523M20.5,523V525M21.5,525V527M22.5,526V527M23.5,525V526M24.5,525V526M25.5,524V526M26.5,521V524M27.5,517V521M28.5,514V517M29.5,511V514M30.5,507V511M31.5,503V507M32.5,499V503M33.5,496V499M34.5,493V496M35.5,489V493M36.5,486V489M37.5,484V486M38.5,483V484M39.5,481V483M40.5,480V481M41.5,479V480M42.5,479V480M43.5,478V479M44.5,478V479M45.5,478V479M46.5,478V479M47.5,479V480M48.5,479V480M49.5,479V480M50.5,479V480M51.5,479V480M52.5,479V480M53.5,479V480M54.5,480V481M55.5,480V481M56.5,481V482M57.5,481V482M58.5,480V481M59.5,480V481M60.5,479V480M61.5,479V480M62.5,480V481M63.5,480V481M64.5,481V482M65.5,481V482M66.5,482V483M67.5,482V483M68.5,483V484M69.5,483V484M70.5,484V486M71.5,486V487M72.5,487V489M73.5,489V490M74.5,490V491M75.5,491V493M76.5,493V494M77.5,494V495M78.5,495V496M79.5,496V497M80.5,497V498M81.5,498V499M82.5,499V500M83.5,499V500M84.5,500V501M85.5,500V501M86.5,500V501M87.5,499V500M88.5,499V500M89.5,499V500M90.5,499V500M91.5,499V500M92.5,499V500M93.5,499V500M94.5,499V500M95.5,500V501M96.5,500V501M97.5,500V501M98.5,501V502M99.5,502V503M100.5,502V503M101.5,503V504M102.5,504V505M103.5,504V505M104.5,505V506M105.5,505V506M106.5,506V507M107.5,507V509M108.5,509V510M109.5,510V511M110.5,509V510M111.5,507V509M112.5,506V507M113.5,505V506M114.5,503V505M115.5,501V503M116.5,499V501M117.5,497V499M118.5,495V497M119.5,493V495M120.5,491V493M121.5,489V491M122.5,489V490M123.5,490V491M124.5,490V491M125.5,490V491M126.5,491V493M127.5,493V494M128.5,494V496M129.5,496V497M130.5,497V499M131.5,499V501M132.5,501V503M133.5,503V505M134.5,505V506M135.5,505V506M136.5,506V507M137.5,506V507M138.5,504V506M139.5,503V504M140.5,501V503M141.5,500V501M142.5,500V501M143.5,501V502M144.5,501V502M145.5,501V502M146.5,502V503M147.5,503V504M148.5,504V505M149.5,505V507M150.5,507V510M151.5,510V514M152.5,514V517M153.5,517V519M154.5,519V520M155.5,520V522M156.5,522V523M157.5,523V524M158.5,523V524M159.5,523V524M160.5,523V524M161.5,522V524M162.5,520V522M163.5,518V520M164.5,516V518M165.5,514V516M166.5,512V514M167.5,510V512M168.5,508V510M169.5,506V508M170.5,504V506M171.5,502V504M172.5,500V502M173.5,498V500M174.5,497V498M175.5,496V497M176.5,495V496M177.5,494V495M178.5,493V494M179.5,492V493M180.5,491V492M181.5,490V491M182.5,489V490M183.5,488V489M184.5,487V488M185.5,486V487M186.5,484V486M187.5,482V484M188.5,480V482M189.5,479V480M190.5,478V479M191.5,478V479M192.5,477V478M193.5,477V478M194.5,478V479M195.5,479V481M196.5,481V482M197.5,482V484M198.5,484V488M199.5,488V491M200.5,491V495M201.5,495V498M202.5,498V501M203.5,501V505M204.5,505V508M205.5,508V510M206.5,510V511M207.5,511V512M208.5,512V513M209.5,513V514M210.5,511V513M211.5,509V511M212.5,507V509M213.5,505V507M214.5,502V505M215.5,499V502M216.5,496V499M217.5,493V496M218.5,491V493M219.5,489V491M220.5,487V489M221.5,485V487M222.5,484V485M223.5,483V484M224.5,483V484M225.5,482V483M226.5,482V483M227.5,482V483M228.5,482V483M229.5,482V483M230.5,483V484M231.5,484V486M232.5,486V487M233.5,487V489M234.5,489V491M235.5,491V494M236.5,494V496M237.5,496V499M238.5,499V503M239.5,503V507M240.5,507V511M241.5,511V514M242.5,514V517M243.5,517V521M244.5,521V524M245.5,524V527M246.5,527V529M247.5,529V531M248.5,531V533M249.5,533V535M250.5,535V536M251.5,535V536M252.5,536V537M253.5,536V537M254.5,536V537M255.5,535V536M256.5,535V536M257.5,535V536M258.5,534V535M259.5,532V534M260.5,531V532M261.5,530V531M262.5,528V530M263.5,527V528M264.5,525V527M265.5,523V525M266.5,521V523M267.5,519V521M268.5,517V519M269.5,514V517M270.5,512V514M271.5,510V512M272.5,508V510M273.5,506V508M274.5,504V506M275.5,502V504M276.5,500V502M277.5,498V500M278.5,499V500M279.5,500V501M280.5,500V501M281.5,501V502M282.5,502V504M283.5,504V506M284.5,506V508M285.5,508V510M286.5,510V512M287.5,512V514M288.5,514V516M289.5,516V518M290.5,517V518M291.5,517V518M292.5,517V518M293.5,517V518M294.5,515V517M295.5,514V515M296.5,512V514M297.5,511V512M298.5,510V511M299.5,508V510M300.5,507V508M301.5,506V507M302.5,507V509M303.5,509V510M304.5,510V512M305.5,512V514M306.5,514V517M307.5,517V520M308.5,520V523M309.5,523V526M310.5,526V528M311.5,528V531M312.5,531V533M313.5,533V535M314.5,534V535M315.5,535V536M316.5,535V536M317.5,535V536M318.5,534V535M319.5,532V534M320.5,531V532M321.5,530V531M322.5,528V530M323.5,527V528M324.5,525V527M325.5,524V525M326.5,523V524M327.5,522V523M328.5,522V523M329.5,521V522M330.5,520V521M331.5,519V520M332.5,519V520M333.5,518V519M334.5,516V518M335.5,515V516M336.5,513V515M337.5,511V513M338.5,509V511M339.5,506V509M340.5,504V506M341.5,502V504M342.5,501V502M343.5,499V501M344.5,498V499M345.5,497V498M346.5,497V498M347.5,498V499M348.5,498V499M349.5,498V499M350.5,499V501M351.5,501V503M352.5,503V505M353.5,505V507M354.5,506V507M355.5,507V508M356.5,507V508M357.5,507V508M358.5,506V507M359.5,504V506M360.5,503V504M361.5,501V503M362.5,499V501M363.5,496V499M364.5,494V496M365.5,492V494M366.5,490V492M367.5,488V490M368.5,486V488M369.5,485V486M370.5,484V485M371.5,483V484M372.5,482V483M373.5,481V482M374.5,482V483M375.5,482V483M376.5,483V484M377.5,483V485M378.5,485V488M379.5,488V491M380.5,491V494M381.5,494V498M382.5,498V503M383.5,503V507M384.5,507V512M385.5,512V516M386.5,516V520M387.5,520V524M388.5,524V528M389.5,528V531M390.5,531V533M391.5,533V535M392.5,535V537M393.5,537V539M394.5,538V539M395.5,537V538M396.5,537V538M397.5,537V538M398.5,536V537M399.5,536V537M400.5,535V536M401.5,535V536M402.5,534V535M403.5,533V534M404.5,532V533M405.5,531V532M406.5,530V531M407.5,528V530M408.5,527V528M409.5,526V527M410.5,525V526M411.5,524V525M412.5,523V524M413.5,522V523M414.5,520V522M415.5,518V520M416.5,516V518M417.5,513V516M418.5,510V513M419.5,508V510M420.5,505V508M421.5,503V505M422.5,501V503M423.5,499V501M424.5,497V499M425.5,496V497M426.5,496V497M427.5,497V498M428.5,497V498M429.5,497V498M430.5,498V500M431.5,500V501M432.5,501V503M433.5,503V504M434.5,504V505M435.5,505V507M436.5,507V508M437.5,508V509M438.5,509V510M439.5,510V512M440.5,512V513M441.5,513V514M442.5,514V515M443.5,515V516M444.5,515V516M445.5,516V517M446.5,515V516M447.5,514V515M448.5,514V515M449.5,513V514M450.5,513V514M451.5,512V513M452.5,512V513M453.5,512V513M454.5,512V513M455.5,512V513M456.5,512V513M457.5,512V513M458.5,512V513M459.5,511V512M460.5,511V512M461.5,511V512M462.5,509V511M463.5,507V509M464.5,505V507M465.5,502V505M466.5,499V502M467.5,495V499M468.5,492V495M469.5,489V492M470.5,487V489M471.5,485V487M472.5,483V485M473.5,481V483M474.5,480V481M475.5,479V480M476.5,479V480M477.5,478V479M478.5,478V479M479.5,478V479M480.5,478V479M481.5,478V479M482.5,478V479M483.5,478V479M484.5,478V479M485.5,478V479M486.5,477V478M487.5,477V478M488.5,476V477M489.5,476V477M490.5,475V476M491.5,475V476M492.5,474V475M493.5,474V475M494.5,474V475M495.5,473V474M496.5,473V474M497.5,473V474M498.5,474V475M499.5,475V476M500.5,475V476M501.5,476V477M502.5,477V479M503.5,479V481M504.5,481V483M505.5,483V486M506.5,486V489M507.5,489V492M508.5,492V495M509.5,495V498M510.5,498V502M511.5,502V506M512.5,506V510M513.5,510V513M514.5,513V514M515.5,514V516M516.5,516V517M517.5,517V518M518.5,515V517M519.5,514V515M520.5,512V514M521.5,510V512M522.5,506V510M523.5,502V506M524.5,498V502M525.5,495V498M526.5,491V495M527.5,488V491M528.5,484V488M529.5,482V484M530.5,480V482M531.5,478V480M532.5,476V478M533.5,474V476M534.5,474V475M535.5,474V475M536.5,474V475M537.5,474V475M538.5,475V476M539.5,475V476M540.5,476V477M541.5,476V477M542.5,477V478M543.5,478V480M544.5,480V481M545.5,481V482M546.5,482V483M547.5,482V483M548.5,483V484M549.5,483V484M550.5,483V484M551.5,484V485M552.5,484V485M553.5,484V485M554.5,484V485M555.5,484V485M556.5,484V485M557.5,484V485M558.5,483V484M559.5,483V484M560.5,482V483M561.5,482V483M562.5,481V482M563.5,481V482M564.5,480V481M565.5,480V481M566.5,481V482M567.5,481V482M568.5,482V483M569.5,482V483M570.5,483V485M571.5,485V486M572.5,486V488M573.5,488V489M574.5,489V491M575.5,491V493M576.5,493V495M577.5,495V496M578.5,495V496M579.5,496V497M580.5,496V497M581.5,496V497M582.5,496V497M583.5,496V497M584.5,496V497M585.5,496V497M586.5,496V497M587.5,495V496M588.5,495V496M589.5,495V496M590.5,495V496M591.5,496V497M592.5,496V497M593.5,496V497M594.5,496V497M595.5,496V497M596.5,496V497M597.5,496V497M598.5,496V497M599.5,497V498M600.5,497V498M601.5,497V498M602.5,497V498M603.5,497V498M604.5,497V498M605.5,497V498M606.5,498V499M607.5,499V500M608.5,499V500M609.5,500V501M610.5,501V502M611.5,502V503M612.5,503V504M613.5,504V505M614.5,505V506M615.5,506V507M616.5,507V508M617.5,508V509M618.5,506V508M619.5,504V506M620.5,502V504M621.5,501V502M622.5,500V501M623.5,498V500M624.5,497V498M625.5,496V497M626.5,495V496M627.5,495V496M628.5,494V495M629.5,494V496M630.5,496V499M631.5,499V501M632.5,501V504M633.5,504V507M634.5,507V509M635.5,509V511M636.5,511V513M637.5,513V515M638.5,515V517M639.5,517V519M640.5,519V521M641.5,521V522M642.5,520V521M643.5,519V520M644.5,519V520M645.5,517V519M646.5,515V517M647.5,512V515M648.5,510V512M649.5,507V510M650.5,504V507M651.5,500V504M652.5,497V500M653.5,494V497M654.5,491V494M655.5,489V491M656.5,486V489M657.5,484V486M658.5,483V484M659.5,482V483M660.5,482V483M661.5,481V482M662.5,482V483M663.5,483V484M664.5,484V485M665.5,485V487M666.5,487V490M667.5,490V492M668.5,492V495M669.5,495V498M670.5,498V501M671.5,501V503M672.5,503V506M673.5,506V509M674.5,509V511M675.5,511V514M676.5,514V516M677.5,516V518M678.5,518V520M679.5,520V522M680.5,522V524M681.5,524V525M682.5,525V526M683.5,526V527M684.5,527V528M685.5,528V529M686.5,528V529M687.5,529V530M688.5,529V530M689.5,529V530M690.5,528V529M691.5,527V528M692.5,527V528M693.5,526V527M694.5,525V526M695.5,524V525M696.5,523V524M697.5,522V523M698.5,520V522M699.5,519V520M700.5,517V519M701.5,515V517M702.5,512V515M703.5,508V512M704.5,505V508M705.5,502V505M706.5,499V502M707.5,497V499M708.5,494V497M709.5,492V494M710.5,490V492M711.5,489V490M712.5,487V489M713.5,486V487M714.5,487V489M715.5,489V491M716.5,491V493M717.5,493V495M718.5,495V498M719.5,498V501M720.5,501V504M721.5,504V507M722.5,507V510M723.5,510V512M724.5,512V515M725.5,515V517M726.5,517V518M727.5,518V519M728.5,519V520M729.5,520V521M730.5,519V520M731.5,519V520M732.5,518V519M733.5,518V519M734.5,517V518M735.5,516V517M736.5,516V517M737.5,515V516M738.5,514V515M739.5,513V514M740.5,512V513M741.5,511V512M742.5,510V511M743.5,509V510M744.5,509V510M745.5,508V509M746.5,507V508M747.5,506V507M748.5,506V507M749.5,505V506M750.5,506V507M751.5,507V509M752.5,509V510M753.5,510V511M754.5,510V511M755.5,510V511M756.5,510V511M757.5,510V511M758.5,511V512M759.5,512V513M760.5,512V513M761.5,513V514M762.5,511V513M763.5,510V511M764.5,508V510M765.5,507V508M766.5,507V508M767.5,507V508M768.5,507V508M769.5,507V508M770.5,506V507M771.5,505V506M772.5,505V506M773.5,504V505M774.5,504V505M775.5,503V504M776.5,503V504M777.5,503V504M778.5,503V504M779.5,502V503M780.5,502V503M781.5,502V503M782.5,503V505M783.5,505V506M784.5,506V508M785.5,508V509M786.5,509V510M787.5,510V511M788.5,511V512M789.5,512V513M790.5,512V513M791.5,512V513M792.5,512V513M793.5,511V513M794.5,508V511M795.5,506V508M796.5,503V506M797.5,500V503M798.5,498V500M799.5,496V498M800.5,494V496M801.5,492V494M802.5,490V492M803.5,488V490M804.5,486V488M805.5,485V486M806.5,484V485M807.5,483V484M808.5,482V483M809.5,481V482M810.5,480V481M811.5,480V481M812.5,479V480M813.5,479V480M814.5,479V480M815.5,478V479M816.5,478V479M817.5,478V479M818.5,479V480M819.5,480V481M820.5,481V482M821.5,482V483M822.5,483V484M823.5,483V484M824.5,484V485M825.5,484V485M826.5,485V486M827.5,486V487M828.5,486V487M829.5,487V488M830.5,488V489M831.5,489V490M832.5,490V491M833.5,491V493M834.5,493V495M835.5,495V497M836.5,497V499M837.5,499V502M838.5,502V506M839.5,506V510M840.5,510V514M841.5,514V518M842.5,518V521M843.5,521V524M844.5,524V527M845.5,527V529M846.5,529V530M847.5,530V531M848.5,530V531M849.5,530V532M850.5,528V530M851.5,525V528M852.5,523V525M853.5,520V523M854.5,517V520M855.5,513V517M856.5,510V513M857.5,507V510M858.5,504V507M859.5,502V504M860.5,499V502M861.5,497V499M862.5,495V497M863.5,494V495M864.5,492V494M865.5,491V492M866.5,492V493M867.5,493V494M868.5,494V495M869.5,495V497M870.5,497V499M871.5,499V501M872.5,501V503M873.5,503V506M874.5,506V509M875.5,509V511M876.5,511V514M877.5,514V516M878.5,516V518M879.5,518V519M880.5,519V521M881.5,521V522M882.5,522V523M883.5,522V523M884.5,523V524M885.5,523V524M886.5,522V523M887.5,520V522M888.5,519V520M889.5,518V519M890.5,517V518M891.5,515V517M892.5,514V515M893.5,513V514M894.5,512V513M895.5,512V513M896.5,511V512M897.5,511V512M898.5,512V513M899.5,513V514M900.5,513V514M901.5,514V515M902.5,515V517M903.5,517V519M904.5,519V521M905.5,521V522M906.5,522V523M907.5,523V524M908.5,523V524M909.5,524V525M910.5,525V526M911.5,526V527M912.5,526V527M913.5,527V528M914.5,528V529M915.5,528V529M916.5,529V530M917.5,529V530M918.5,528V529M919.5,528V529M920.5,527V528M921.5,526V528M922.5,524V526M923.5,521V524M924.5,519V521M925.5,516V519M926.5,513V516M927.5,511V513M928.5,508V511M929.5,505V508M930.5,503V505M931.5,500V503M932.5,498V500M933.5,496V498M934.5,494V496M935.5,493V494M936.5,491V493M937.5,490V491M938.5,489V490M939.5,488V489M940.5,487V488M941.5,486V487M942.5,487V488M943.5,487V488M944.5,488V489M945.5,488V489M946.5,489V491M947.5,491V492M948.5,492V494M949.5,494V495M950.5,495V496M951.5,496V498M952.5,498V499M953.5,499V500M954.5,500V501M955.5,501V502M956.5,501V502M957.5,502V503M958.5,502V503M959.5,502V503M960.5,502V503M961.5,502V503M962.5,501V502M963.5,499V501M964.5,498V499M965.5,497V498M966.5,495V497M967.5,493V495M968.5,491V493M969.5,490V491M970.5,488V490M971.5,486V488M972.5,484V486M973.5,482V484M974.5,482V483M975.5,481V482M976.5,481V482M977.5,481V482M978.5,481V482M979.5,482V483M980.5,482V483M981.5,482V483M982.5,482V483M983.5,482V483M984.5,482V483M985.5,482V483M986.5,482V483M987.5,481V482M988.5,481V482M989.5,481V482" fill="none" stroke="#ff0000" stroke-width="1" shape-rendering="crispEdges"/>
<g id="wm" text-rendering="geometricPrecision">
<path id="wm1" d="M52.50,348.05H72.50A10.00,10.85 0 1 0 70.89,353.66M98.67,341.22A10.10,10.85 0 1 0 98.67,354.28M106.40,347.75A11.55,10.85 0 1 0 129.50,347.75A11.55,10.85 0 1 0 106.40,347.75ZM137.80,334.80V361.10M137.80,346.10A9.20,9.20 0 0 1 156.20,346.10V361.10M164.50,347.75A11.55,10.85 0 1 0 187.60,347.75A11.55,10.85 0 1 0 164.50,347.75ZM195.90,334.80V361.10M195.90,344.72A7.83,7.83 0 0 1 211.55,344.72V361.10M211.55,344.72A7.83,7.83 0 0 1 227.20,344.72V361.10M244.40,348.05H265.10A10.35,10.85 0 1 0 263.43,353.66M290.6,341.6C288.4,337.9 285,336.65 281,336.65C275.3,336.65 272.2,339 272.2,342.2C272.2,345.9 276,346.8 281.25,347.75C286.8,348.75 291.5,349.8 291.5,353.6C291.5,357 287.5,358.85 281.5,358.85C276.8,358.85 272.8,357.4 270.7,353.9" fill="none" stroke="#fdd6bd" stroke-width="5.0" stroke-linecap="butt" stroke-linejoin="round"/>
<rect x="233.4" y="334.8" width="4.9" height="26.3" fill="#fdd6bd"/><rect x="233.4" y="327.1" width="4.9" height="4.6" fill="#fdd6bd"/>
<g fill="none" stroke="#dedede" stroke-width="2.3" stroke-linecap="butt">
<path d="M324.2,339.9 A11.2,11.2 0 1 0 324.2,354.5"/>
<circle cx="340.5" cy="347.2" r="11.3"/>
<path d="M357.2,335.3 V359.6 M357.2,344 A7.9,7.9 0 0 1 373,344 V359.6 M373,344 A7.9,7.9 0 0 1 388.8,344 V359.6"/>
</g>
<rect x="297.6" y="356.2" width="3.6" height="3.4" fill="#dedede"/>
<defs><linearGradient id="gg" x1="0" y1="0" x2="0" y2="1"><stop offset="0.25" stop-color="#e6e6e6"/><stop offset="0.8" stop-color="#d6d6d6"/></linearGradient></defs>
<text id="wF" x="87.5" y="400" font-size="45" font-weight="bold" fill="url(#gg)" textLength="23" lengthAdjust="spacingAndGlyphs">F</text>
<polyline points="111.5,377.5 120.5,387 131.5,377.5" fill="none" stroke="#f5dada" stroke-width="2.6" stroke-linejoin="round" stroke-linecap="round"/>
<polyline points="114.5,397 125.5,387.5 134.5,397" fill="none" stroke="#dcecdc" stroke-width="2.6" stroke-linejoin="round" stroke-linecap="round"/>
<text id="wN" x="134.5" y="400" font-size="45" font-weight="bold" fill="url(#gg)" textLength="35" lengthAdjust="spacingAndGlyphs">N</text>
<text id="wews" x="168" y="400" font-size="45" fill="#dfdfdf" stroke="#dfdfdf" stroke-width="0.5" textLength="68" lengthAdjust="spacingAndGlyphs">ews</text>
<text id="wT" x="235" y="400" font-size="45" font-weight="bold" fill="url(#gg)" textLength="27" lengthAdjust="spacingAndGlyphs">T</text>
<text id="woday" x="258" y="400" font-size="45" fill="#dfdfdf" stroke="#dfdfdf" stroke-width="0.5" textLength="89" lengthAdjust="spacingAndGlyphs">oday</text>
</g>
<g shape-rendering="crispEdges">
<rect x="0" y="0" width="1279" height="1" fill="#a0a0a0"/>
<rect x="1" y="1" width="1277" height="1" fill="#696969"/>
<rect x="0" y="0" width="1" height="566" fill="#a0a0a0"/>
<rect x="1" y="1" width="1" height="564" fill="#696969"/>
<rect x="1" y="565" width="1278" height="1" fill="#e3e3e3"/>
<rect x="1278" y="1" width="1" height="565" fill="#e3e3e3"/>
<rect x="4" y="4" width="1229" height="1" fill="#000"/>
<rect x="4" y="4" width="1" height="541" fill="#000"/>
<rect x="1232" y="4" width="1" height="541" fill="#000"/>
<rect x="4" y="464" width="1229" height="1" fill="#000"/>
<rect x="4" y="465" width="1229" height="1" fill="#fff"/>
<rect x="4" y="466" width="1229" height="1" fill="#000"/>
<rect x="4" y="544" width="1229" height="1" fill="#000"/>
<rect x="1233" y="32" width="2" height="1" fill="#000"/>
<rect x="1233" y="65" width="2" height="1" fill="#000"/>
<rect x="1233" y="98" width="2" height="1" fill="#000"/>
<rect x="1233" y="131" width="2" height="1" fill="#000"/>
<rect x="1233" y="164" width="2" height="1" fill="#000"/>
<rect x="1233" y="197" width="2" height="1" fill="#000"/>
<rect x="1233" y="230" width="2" height="1" fill="#000"/>
<rect x="1233" y="263" width="2" height="1" fill="#000"/>
<rect x="1233" y="296" width="2" height="1" fill="#000"/>
<rect x="1233" y="329" width="2" height="1" fill="#000"/>
<rect x="1233" y="362" width="2" height="1" fill="#000"/>
<rect x="1233" y="395" width="2" height="1" fill="#000"/>
<rect x="1233" y="428" width="2" height="1" fill="#000"/>
<rect x="1233" y="461" width="2" height="1" fill="#000"/>
<rect x="1233" y="543" width="1" height="1" fill="#000"/>
<rect x="1233" y="468" width="1" height="1" fill="#000"/>
<rect x="5" y="545" width="1" height="3" fill="#000"/>
<rect x="69" y="545" width="1" height="3" fill="#000"/>
<rect x="133" y="545" width="1" height="3" fill="#000"/>
<rect x="197" y="545" width="1" height="3" fill="#000"/>
<rect x="261" y="545" width="1" height="3" fill="#000"/>
<rect x="325" y="545" width="1" height="3" fill="#000"/>
<rect x="389" y="545" width="1" height="3" fill="#000"/>
<rect x="453" y="545" width="1" height="3" fill="#000"/>
<rect x="517" y="545" width="1" height="3" fill="#000"/>
<rect x="581" y="545" width="1" height="3" fill="#000"/>
<rect x="645" y="545" width="1" height="3" fill="#000"/>
<rect x="709" y="545" width="1" height="3" fill="#000"/>
<rect x="773" y="545" width="1" height="3" fill="#000"/>
<rect x="837" y="545" width="1" height="3" fill="#000"/>
<rect x="901" y="545" width="1" height="3" fill="#000"/>
<rect x="965" y="545" width="1" height="3" fill="#000"/>
</g>
<polygon points="992.5,5 1002.5,5 997.5,10" fill="#b4b4b4"/>
<polygon points="8,11 15,11 11.5,15" fill="#000"/>
<text transform="translate(20.3,16) scale(0.917,1)" fill="#000" font-size="10.17" stroke="#000" stroke-width="0.25" text-rendering="geometricPrecision" >BTCUSD,H4</text>
<text transform="translate(80.4,16) scale(0.9,1)" fill="#000" font-size="10.17" stroke="#000" stroke-width="0.25" text-rendering="geometricPrecision" >110848</text>
<text transform="translate(113.4,16) scale(0.9,1)" fill="#000" font-size="10.17" stroke="#000" stroke-width="0.25" text-rendering="geometricPrecision" >110980</text>
<text transform="translate(146.4,16) scale(0.9,1)" fill="#000" font-size="10.17" stroke="#000" stroke-width="0.25" text-rendering="geometricPrecision" >110619</text>
<text transform="translate(179.4,16) scale(0.9,1)" fill="#000" font-size="10.17" stroke="#000" stroke-width="0.25" text-rendering="geometricPrecision" >110619</text>
<text transform="translate(9.4,479) scale(0.91,1)" fill="#000" font-size="10.17" stroke="#000" stroke-width="0.25" text-rendering="geometricPrecision" >Sto(5,3,3) 86.3687 82.5475</text>
<text transform="translate(1238.0,36) scale(0.9,1)" fill="#000" font-size="10.17" stroke="#000" stroke-width="0.25" text-rendering="geometricPrecision" >125779</text>
<text transform="translate(1238.0,69) scale(0.9,1)" fill="#000" font-size="10.17" stroke="#000" stroke-width="0.25" text-rendering="geometricPrecision" >123909</text>
<text transform="translate(1238.0,102) scale(0.9,1)" fill="#000" font-size="10.17" stroke="#000" stroke-width="0.25" text-rendering="geometricPrecision" >122039</text>
<text transform="translate(1238.0,135) scale(0.9,1)" fill="#000" font-size="10.17" stroke="#000" stroke-width="0.25" text-rendering="geometricPrecision" >120114</text>
<text transform="translate(1238.0,168) scale(0.9,1)" fill="#000" font-size="10.17" stroke="#000" stroke-width="0.25" text-rendering="geometricPrecision" >118244</text>
<text transform="translate(1238.0,201) scale(0.9,1)" fill="#000" font-size="10.17" stroke="#000" stroke-width="0.25" text-rendering="geometricPrecision" >116374</text>
<text transform="translate(1238.0,234) scale(0.9,1)" fill="#000" font-size="10.17" stroke="#000" stroke-width="0.25" text-rendering="geometricPrecision" >114449</text>
<text transform="translate(1238.0,267) scale(0.9,1)" fill="#000" font-size="10.17" stroke="#000" stroke-width="0.25" text-rendering="geometricPrecision" >112579</text>
<text transform="translate(1238.0,333) scale(0.9,1)" fill="#000" font-size="10.17" stroke="#000" stroke-width="0.25" text-rendering="geometricPrecision" >108764</text>
<text transform="translate(1238.0,366) scale(0.9,1)" fill="#000" font-size="10.17" stroke="#000" stroke-width="0.25" text-rendering="geometricPrecision" >106914</text>
<text transform="translate(1238.0,432) scale(0.9,1)" fill="#000" font-size="10.17" stroke="#000" stroke-width="0.25" text-rendering="geometricPrecision" >103119</text>
<text transform="translate(1238.0,465) scale(0.9,1)" fill="#000" font-size="10.17" stroke="#000" stroke-width="0.25" text-rendering="geometricPrecision" >101249</text>
<g shape-rendering="crispEdges">
<rect x="1234" y="201" width="38" height="11" fill="#ff4500"/>
<rect x="1234" y="292" width="38" height="11" fill="#000"/>
<rect x="1234" y="318" width="38" height="11" fill="#3cb371"/>
<rect x="1234" y="388" width="38" height="11" fill="#3cb371"/>
</g>
<text transform="translate(1238.0,210) scale(0.9,1)" fill="#fff" font-size="10.17" stroke="#fff" stroke-width="0.25" text-rendering="geometricPrecision" >115772</text>
<text transform="translate(1238.0,301) scale(0.9,1)" fill="#fff" font-size="10.17" stroke="#fff" stroke-width="0.25" text-rendering="geometricPrecision" >110619</text>
<text transform="translate(1238.0,327) scale(0.9,1)" fill="#fff" font-size="10.17" stroke="#fff" stroke-width="0.25" text-rendering="geometricPrecision" >109085</text>
<text transform="translate(1238.0,397) scale(0.9,1)" fill="#fff" font-size="10.17" stroke="#fff" stroke-width="0.25" text-rendering="geometricPrecision" >105083</text>
<text transform="translate(1236,477) scale(0.9,1)" fill="#000" font-size="10.17" stroke="#000" stroke-width="0.25" text-rendering="geometricPrecision" >100</text>
<text transform="translate(1234.7,487) scale(0.9,1)" fill="#000" font-size="10.17" stroke="#000" stroke-width="0.25" text-rendering="geometricPrecision" >80</text>
<text transform="translate(1234.7,532) scale(0.9,1)" fill="#000" font-size="10.17" stroke="#000" stroke-width="0.25" text-rendering="geometricPrecision" >20</text>
<text transform="translate(1236,541) scale(0.9,1)" fill="#000" font-size="10.17" stroke="#000" stroke-width="0.25" text-rendering="geometricPrecision" >0</text>
<text transform="translate(4.3,557) scale(0.9,1)" fill="#000" font-size="10.17" stroke="#000" stroke-width="0.25" text-rendering="geometricPrecision" >9 Sep 2025</text>
<text transform="translate(68.3,557) scale(0.9,1)" fill="#000" font-size="10.17" stroke="#000" stroke-width="0.25" text-rendering="geometricPrecision" >12 Sep 04:00</text>
<text transform="translate(132.3,557) scale(0.9,1)" fill="#000" font-size="10.17" stroke="#000" stroke-width="0.25" text-rendering="geometricPrecision" >14 Sep 20:00</text>
<text transform="translate(196.3,557) scale(0.9,1)" fill="#000" font-size="10.17" stroke="#000" stroke-width="0.25" text-rendering="geometricPrecision" >17 Sep 12:00</text>
<text transform="translate(260.3,557) scale(0.9,1)" fill="#000" font-size="10.17" stroke="#000" stroke-width="0.25" text-rendering="geometricPrecision" >20 Sep 04:00</text>
<text transform="translate(324.3,557) scale(0.9,1)" fill="#000" font-size="10.17" stroke="#000" stroke-width="0.25" text-rendering="geometricPrecision" >22 Sep 20:00</text>
<text transform="translate(388.3,557) scale(0.9,1)" fill="#000" font-size="10.17" stroke="#000" stroke-width="0.25" text-rendering="geometricPrecision" >25 Sep 12:00</text>
<text transform="translate(452.3,557) scale(0.9,1)" fill="#000" font-size="10.17" stroke="#000" stroke-width="0.25" text-rendering="geometricPrecision" >28 Sep 04:00</text>
<text transform="translate(516.3,557) scale(0.9,1)" fill="#000" font-size="10.17" stroke="#000" stroke-width="0.25" text-rendering="geometricPrecision" >30 Sep 20:00</text>
<text transform="translate(580.3,557) scale(0.932,1)" fill="#000" font-size="10.17" stroke="#000" stroke-width="0.25" text-rendering="geometricPrecision" >3 Oct 12:00</text>
<text transform="translate(644.3,557) scale(0.932,1)" fill="#000" font-size="10.17" stroke="#000" stroke-width="0.25" text-rendering="geometricPrecision" >6 Oct 04:00</text>
<text transform="translate(708.3,557) scale(0.932,1)" fill="#000" font-size="10.17" stroke="#000" stroke-width="0.25" text-rendering="geometricPrecision" >8 Oct 20:00</text>
<text transform="translate(772.3,557) scale(0.932,1)" fill="#000" font-size="10.17" stroke="#000" stroke-width="0.25" text-rendering="geometricPrecision" >11 Oct 12:00</text>
<text transform="translate(836.3,557) scale(0.932,1)" fill="#000" font-size="10.17" stroke="#000" stroke-width="0.25" text-rendering="geometricPrecision" >14 Oct 04:00</text>
<text transform="translate(900.3,557) scale(0.932,1)" fill="#000" font-size="10.17" stroke="#000" stroke-width="0.25" text-rendering="geometricPrecision" >16 Oct 20:00</text>
<text transform="translate(964.3,557) scale(0.932,1)" fill="#000" font-size="10.17" stroke="#000" stroke-width="0.25" text-rendering="geometricPrecision" >19 Oct 12:00</text>
</svg>
</body></html>
